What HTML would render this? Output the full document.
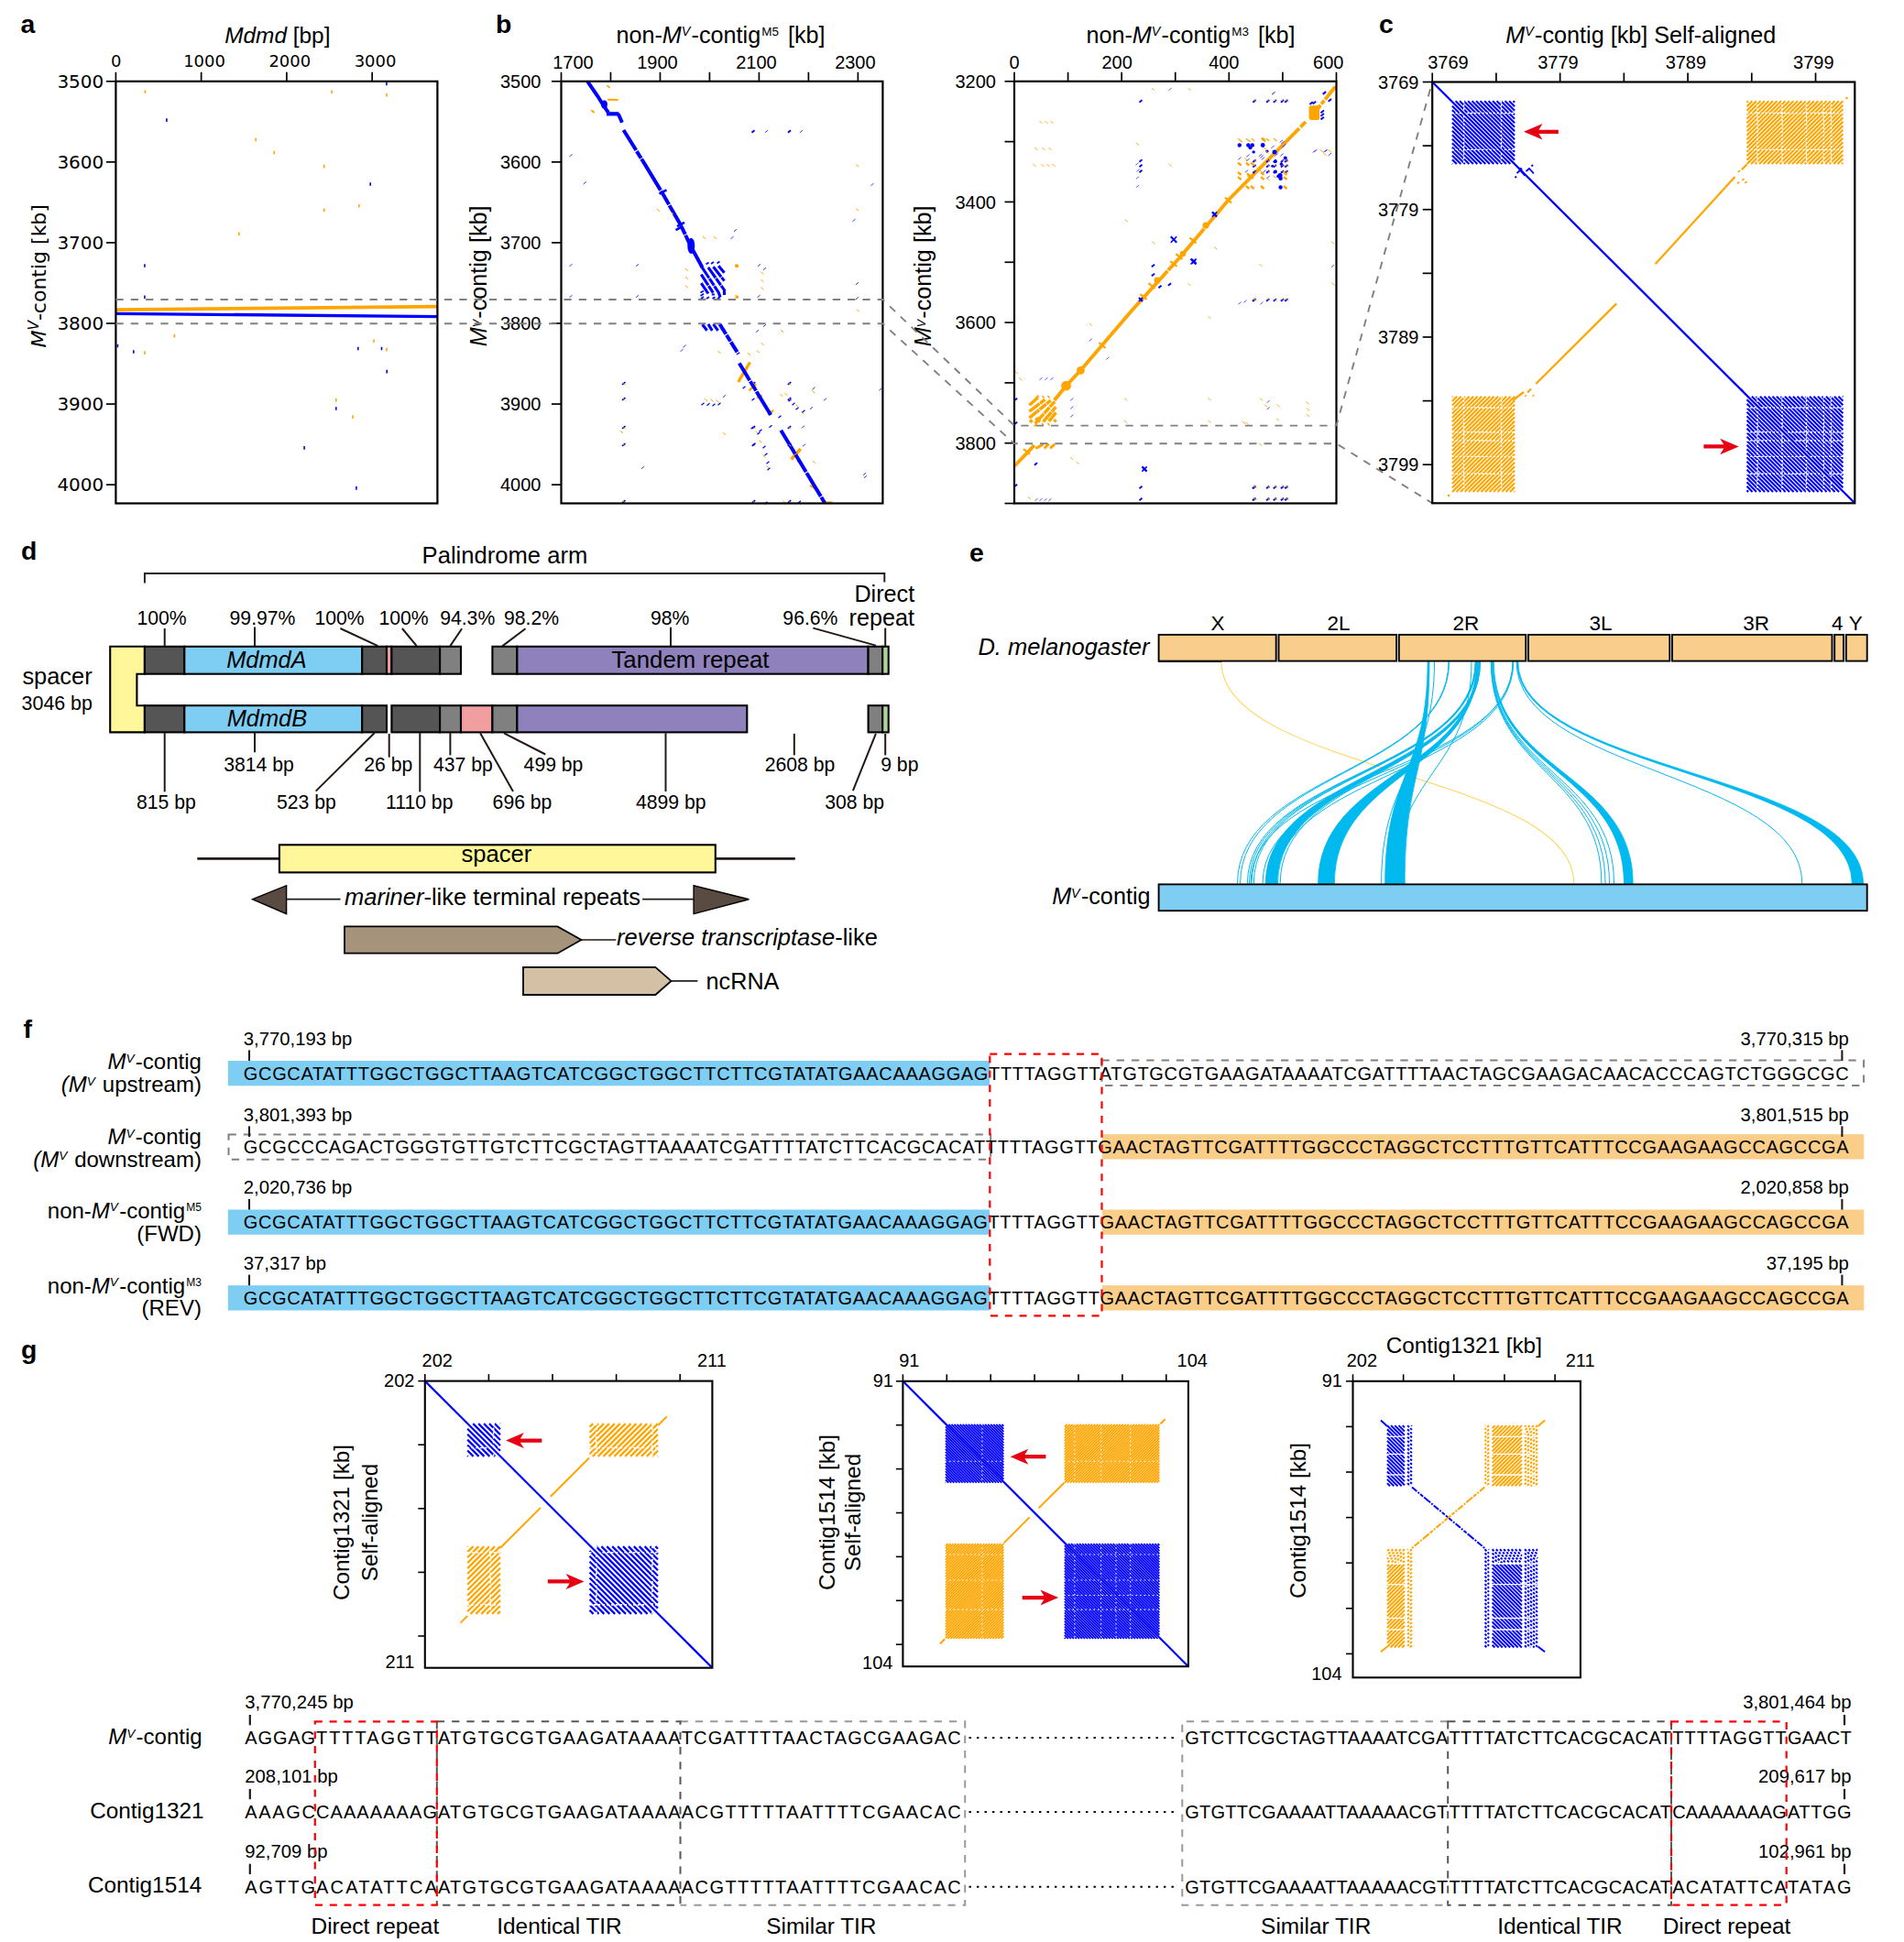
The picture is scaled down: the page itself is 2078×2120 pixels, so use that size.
<!DOCTYPE html>
<html lang="en"><head><meta charset="utf-8"><title>Figure</title>
<style>html,body{margin:0;padding:0;background:#fff}svg{display:block}text{font-family:'Liberation Sans', sans-serif;fill:#000}text.dj{font-family:'DejaVu Sans','Liberation Sans',sans-serif}</style></head>
<body>
<svg width="2078" height="2120" viewBox="0 0 2078 2120">
<rect width="2078" height="2120" fill="#fff"/>
<!-- panel a -->
<text x="22.4" y="35.8" font-size="28.4" font-weight="bold">a</text>
<text x="245.2" y="46.8" font-size="24.4"><tspan font-style="italic">Mdmd</tspan> [bp]</text>
<path d="M158.4,98.4v3.6M362.1,98.4v3.6M421.9,102v3.6M279.1,150.6v3.6M299.3,164.8v3.6M353.7,179.8v3.6M391.9,223v3.6M353.7,227.6v3.6M260.8,253.5v3.6M190.4,364.8v3.6M157.9,383.3v3.6M408,370.5v3.6M422,379.8v3.6M366.8,435v3.6M385.1,453.3v3.6" fill="none" stroke="#FFA500" stroke-width="1.6" />
<path d="M421.9,89.7v3.6M181.9,129.3v3.6M404.2,199.2v3.6M157.9,288.2v3.6M157.9,322.4v3.6M128.4,375.7v3.6M145.8,382.2v3.6M390.8,378.7v3.6M416.5,378.7v3.6M422.2,403.8v3.6M366.8,444.2v3.6M332.1,487.1v3.6M388.9,531.1v3.6" fill="none" stroke="#0000FF" stroke-width="1.6" />
<line x1="126.4" y1="338.2" x2="477.4" y2="334.6" stroke="#FFA500" stroke-width="3.8" />
<line x1="126.4" y1="342.4" x2="477.4" y2="345.6" stroke="#0000FF" stroke-width="3.4" />
<rect x="126.4" y="88.8" width="351" height="460.7" fill="none" stroke="#000" stroke-width="2.2" />
<line x1="126.4" y1="78.8" x2="126.4" y2="88.8" stroke="#000" stroke-width="1.7" />
<text x="126.8" y="73" font-size="18" text-anchor="middle" class="dj">0</text>
<line x1="219.65" y1="78.8" x2="219.65" y2="88.8" stroke="#000" stroke-width="1.7" />
<text x="223.05" y="73" font-size="18" text-anchor="middle" class="dj">1000</text>
<line x1="312.9" y1="78.8" x2="312.9" y2="88.8" stroke="#000" stroke-width="1.7" />
<text x="316.3" y="73" font-size="18" text-anchor="middle" class="dj">2000</text>
<line x1="406.15" y1="78.8" x2="406.15" y2="88.8" stroke="#000" stroke-width="1.7" />
<text x="409.55" y="73" font-size="18" text-anchor="middle" class="dj">3000</text>
<line x1="115.9" y1="88.8" x2="126.4" y2="88.8" stroke="#000" stroke-width="1.7" />
<text x="113.3" y="95.9" font-size="20" text-anchor="end" class="dj">3500</text>
<line x1="115.9" y1="176.87" x2="126.4" y2="176.87" stroke="#000" stroke-width="1.7" />
<text x="113.3" y="183.97" font-size="20" text-anchor="end" class="dj">3600</text>
<line x1="115.9" y1="264.94" x2="126.4" y2="264.94" stroke="#000" stroke-width="1.7" />
<text x="113.3" y="272.04" font-size="20" text-anchor="end" class="dj">3700</text>
<line x1="115.9" y1="353.01" x2="126.4" y2="353.01" stroke="#000" stroke-width="1.7" />
<text x="113.3" y="360.11" font-size="20" text-anchor="end" class="dj">3800</text>
<line x1="115.9" y1="441.08" x2="126.4" y2="441.08" stroke="#000" stroke-width="1.7" />
<text x="113.3" y="448.18" font-size="20" text-anchor="end" class="dj">3900</text>
<line x1="115.9" y1="529.15" x2="126.4" y2="529.15" stroke="#000" stroke-width="1.7" />
<text x="113.3" y="536.25" font-size="20" text-anchor="end" class="dj">4000</text>
<text x="50" y="379.6" font-size="22" class="dj" transform="rotate(-90 50 379.6)"><tspan font-style="oblique">M</tspan><tspan font-style="oblique" font-size="15.4" dy="-8">V</tspan><tspan dy="8">-contig [kb]</tspan></text>
<!-- panel b -->
<text x="540.9" y="35.8" font-size="28.4" font-weight="bold">b</text>
<text x="672.4" y="46.9" font-size="25.2">non-<tspan font-style="italic">M</tspan><tspan font-style="italic" font-size="14.36" dy="-7.56">V</tspan><tspan dy="7.56" dx="1.2">-contig</tspan><tspan font-size="13.48" dy="-8.32" dx="1">M5</tspan><tspan dy="8.32" dx="3"> [kb]</tspan></text>
<line x1="805.7" y1="417" x2="818.5" y2="395.5" stroke="#FFA500" stroke-width="3.4" />
<line x1="863.5" y1="501.5" x2="873.8" y2="490" stroke="#FFA500" stroke-width="3.4" />
<line x1="866" y1="490.5" x2="872" y2="504.5" stroke="#FFA500" stroke-width="2.6" />
<line x1="817.5" y1="426.5" x2="825" y2="419" stroke="#FFA500" stroke-width="2.4" />
<line x1="826" y1="434" x2="832" y2="432" stroke="#FFA500" stroke-width="2.4" />
<line x1="838" y1="452.5" x2="844" y2="448" stroke="#FFA500" stroke-width="2.4" />
<line x1="884" y1="530" x2="891" y2="534" stroke="#FFA500" stroke-width="2.2" />
<line x1="901" y1="548.3" x2="908.5" y2="548.3" stroke="#FFA500" stroke-width="2" />
<polyline points="641.2,88.8 652,104.5 658.5,115 663.9,122.9" fill="none" stroke="#0000FF" stroke-width="4" />
<polyline points="662,124.3 675.5,124.3" fill="none" stroke="#0000FF" stroke-width="4.2" />
<polyline points="674.8,124.3 678.9,133.8" fill="none" stroke="#0000FF" stroke-width="4" />
<polyline points="680.5,142 703.5,178.9 722.6,210.3 743,245.8 754,269 766.5,292" fill="none" stroke="#0000FF" stroke-width="4" stroke-dasharray="26 1.2 9 0.9 40 1.1 17 1"/>
<ellipse cx="659.5" cy="114" rx="3.4" ry="4.6" fill="#0000FF"/>
<line x1="719.5" y1="211.7" x2="727.5" y2="207.3" stroke="#0000FF" stroke-width="2.6" />
<line x1="739" y1="247.2" x2="747" y2="242.8" stroke="#0000FF" stroke-width="2.6" />
<line x1="737.5" y1="251.2" x2="745.5" y2="246.8" stroke="#0000FF" stroke-width="2.6" />
<ellipse cx="754.3" cy="268.4" rx="4" ry="8.6" fill="#0000FF"/>
<path d="M766.2,291.8 L784.2,319.2 L786.1,324.6 M772.9,291.8 L790.5,316.7 L790.5,322 M778.5,291.2 L790.5,306.6 M784.2,290.3 L790.5,297.8 M765.3,299.7 L778.5,319.9 L778.3,322.5 M765.3,309.2 L772.9,320.5" fill="none" stroke="#0000FF" stroke-width="3.1" stroke-dasharray="14 0.8 9 0.8"/>
<path d="M770.5,288.5 l3,-2 M776,288 l3,-2 M782.5,287.5 l3,-2 M764.5,319.5 l3.5,-2 M764.5,323 l3.5,-2.2 M765,326 l3,-2 M771,326 l3,-1.8 M777.5,326 l3,-1.8 M783,326 l3,-1.8" fill="none" stroke="#0000FF" stroke-width="1.7" />
<path d="M766.6,354.3 L771.6,360.8 M772.9,353.9 L777.3,360.8 M778.5,353.9 L783.6,360.8" fill="none" stroke="#0000FF" stroke-width="3.1" />
<circle cx="804.1" cy="290.3" r="2" fill="#FFA500"/><circle cx="804.3" cy="324.3" r="1.8" fill="#FFA500"/>
<polyline points="785.4,353.7 805.9,386.5" fill="none" stroke="#0000FF" stroke-width="4" stroke-dasharray="13 1.2 8 1"/>
<polyline points="806.8,396.5 841.4,453.4" fill="none" stroke="#0000FF" stroke-width="4" stroke-dasharray="22 1.2 12 1 30 1"/>
<polyline points="852.3,469.8 900.1,549" fill="none" stroke="#0000FF" stroke-width="4" stroke-dasharray="30 1 22 1.2"/>
<line x1="663" y1="108.7" x2="674.5" y2="108.9" stroke="#FFA500" stroke-width="2" />
<path d="M662.25,93.1l3.5,2.8M645.25,120.2l3.5,2.8" fill="none" stroke="#FFA500" stroke-width="1.8" />
<path d="M621.4,170.98l3.2,-2.56M636.7,200.98l3.2,-2.56M621.4,290.78l3.2,-2.56M693.9,290.78l3.2,-2.56M800.9,252.78l3.2,-2.56M797.4,260.78l3.2,-2.56M826.9,290.78l3.2,-2.56M832.9,294.78l3.2,-2.56M621.4,324.78l3.2,-2.56M693.9,324.78l3.2,-2.56M826.4,324.78l3.2,-2.56M933.9,310.78l3.2,-2.56M933.9,326.78l3.2,-2.56M745.4,379.28l3.2,-2.56M742.4,383.78l3.2,-2.56M930.4,241.78l3.2,-2.56M950.4,202.78l3.2,-2.56M834.9,144.78l3.2,-2.56M872.9,144.78l3.2,-2.56M959.4,426.28l3.2,-2.56M699.9,511.78l3.2,-2.56M941.9,518.78l3.2,-2.56M942.9,521.78l3.2,-2.56M832.9,356.78l3.2,-2.56M824.9,362.78l3.2,-2.56M788.9,433.78l3.2,-2.56M886.4,425.28l3.2,-2.56M898.9,437.28l3.2,-2.56M883.9,446.78l3.2,-2.56M874.9,467.28l3.2,-2.56M875.9,487.28l3.2,-2.56" fill="none" stroke="#3a3aff" stroke-width="1" />
<path d="M820.5,144.7l3,-2.4M860,144.7l3,-2.4" fill="none" stroke="#0000FF" stroke-width="2" />
<path d="M679.1,419.86l3.4,-2.72M679.1,436.86l3.4,-2.72M679.1,467.86l3.4,-2.72M679.1,486.86l3.4,-2.72M679.1,548.86l3.4,-2.72M820.8,419.86l3.4,-2.72M820.8,467.86l3.4,-2.72M820.8,486.86l3.4,-2.72M820.8,548.86l3.4,-2.72M859.8,419.86l3.4,-2.72M859.8,436.86l3.4,-2.72M859.8,467.86l3.4,-2.72M859.8,486.86l3.4,-2.72M859.8,548.86l3.4,-2.72" fill="none" stroke="#0000FF" stroke-width="1.8" />
<path d="M679.8,417.9l3,2.4M679.8,434.9l3,2.4M679.8,465.9l3,2.4M679.8,484.9l3,2.4M679.8,546.9l3,2.4M821.5,417.9l3,2.4M821.5,465.9l3,2.4M821.5,484.9l3,2.4M821.5,546.9l3,2.4M860.5,417.9l3,2.4M860.5,434.9l3,2.4M860.5,465.9l3,2.4M860.5,484.9l3,2.4M860.5,546.9l3,2.4" fill="none" stroke="#FFA500" stroke-width="0.8" />
<path d="M747.9,293.22l3.2,2.56M747.9,302.22l3.2,2.56M747.9,311.72l3.2,2.56M801.9,288.72l3.2,2.56M802.4,322.22l3.2,2.56M830.4,296.72l3.2,2.56M830.4,305.22l3.2,2.56M830.4,313.72l3.2,2.56M934.9,337.72l3.2,2.56M851.9,360.22l3.2,2.56M830.4,374.22l3.2,2.56M783.4,383.22l3.2,2.56M815.9,385.22l3.2,2.56M825.9,382.72l3.2,2.56M788.9,472.22l3.2,2.56M731.9,231.22l3.2,2.56M716.9,228.22l3.2,2.56M766.9,258.22l3.2,2.56M778.9,258.22l3.2,2.56M933.9,179.52l3.2,2.56M933.9,227.52l3.2,2.56M676.9,470.22l3.2,2.56M768.9,435.22l3.2,2.56M775.4,435.72l3.2,2.56M781.4,436.72l3.2,2.56M851.4,430.22l3.2,2.56M856.4,429.22l3.2,2.56M886.4,426.72l3.2,2.56M868.4,441.72l3.2,2.56M874.4,449.72l3.2,2.56M824.4,470.72l3.2,2.56M828.4,480.72l3.2,2.56M832.4,496.72l3.2,2.56M836.4,508.72l3.2,2.56M886.9,503.22l3.2,2.56M854.4,546.72l3.2,2.56" fill="none" stroke="#FFA500" stroke-width="1" />
<path d="M765.5,442.2l3,-2.4M771.5,442.7l3,-2.4M777.5,443.2l3,-2.4M783.5,442.2l3,-2.4M810.5,424.2l3,-2.4M820.5,437.2l3,-2.4M839.5,466.7l3,-2.4M819.5,468.2l3,-2.4M821.5,486.2l3,-2.4M828.5,471.2l3,-2.4M826.5,474.2l3,-2.4M832.5,489.2l3,-2.4M834.5,497.2l3,-2.4M836.5,506.2l3,-2.4M837.5,513.2l3,-2.4M860.5,438.2l3,-2.4M864.5,442.2l3,-2.4M868.5,447.2l3,-2.4M875.5,450.2l3,-2.4M849.5,456.2l3,-2.4M834.5,550.2l3,-2.4M871,549.2l3,-2.4" fill="none" stroke="#0000FF" stroke-width="1.2" />
<rect x="612.5" y="88.8" width="350.9" height="460.7" fill="none" stroke="#000" stroke-width="2.2" />
<line x1="612.5" y1="78.8" x2="612.5" y2="88.8" stroke="#000" stroke-width="1.7" />
<text x="625.5" y="75" font-size="20" text-anchor="middle">1700</text>
<line x1="666.48" y1="78.8" x2="666.48" y2="88.8" stroke="#000" stroke-width="1.7" />
<line x1="720.46" y1="78.8" x2="720.46" y2="88.8" stroke="#000" stroke-width="1.7" />
<text x="717.46" y="75" font-size="20" text-anchor="middle">1900</text>
<line x1="774.44" y1="78.8" x2="774.44" y2="88.8" stroke="#000" stroke-width="1.7" />
<line x1="828.42" y1="78.8" x2="828.42" y2="88.8" stroke="#000" stroke-width="1.7" />
<text x="825.42" y="75" font-size="20" text-anchor="middle">2100</text>
<line x1="882.4" y1="78.8" x2="882.4" y2="88.8" stroke="#000" stroke-width="1.7" />
<line x1="936.38" y1="78.8" x2="936.38" y2="88.8" stroke="#000" stroke-width="1.7" />
<text x="933.38" y="75" font-size="20" text-anchor="middle">2300</text>
<line x1="602" y1="88.8" x2="612.5" y2="88.8" stroke="#000" stroke-width="1.7" />
<text x="590.5" y="96" font-size="20" text-anchor="end">3500</text>
<line x1="602" y1="176.87" x2="612.5" y2="176.87" stroke="#000" stroke-width="1.7" />
<text x="590.5" y="184.07" font-size="20" text-anchor="end">3600</text>
<line x1="602" y1="264.94" x2="612.5" y2="264.94" stroke="#000" stroke-width="1.7" />
<text x="590.5" y="272.14" font-size="20" text-anchor="end">3700</text>
<line x1="602" y1="353.01" x2="612.5" y2="353.01" stroke="#000" stroke-width="1.7" />
<text x="590.5" y="360.21" font-size="20" text-anchor="end">3800</text>
<line x1="602" y1="441.08" x2="612.5" y2="441.08" stroke="#000" stroke-width="1.7" />
<text x="590.5" y="448.28" font-size="20" text-anchor="end">3900</text>
<line x1="602" y1="529.15" x2="612.5" y2="529.15" stroke="#000" stroke-width="1.7" />
<text x="590.5" y="536.35" font-size="20" text-anchor="end">4000</text>
<text x="531.2" y="378.3" font-size="25.2" transform="rotate(-90 531.2 378.3)"><tspan font-style="italic">M</tspan><tspan font-style="italic" font-size="12.6" dy="-6.05">V</tspan><tspan dy="6.05" dx="1.2">-contig [kb]</tspan></text>
<!-- panel b right -->
<text x="1185.4" y="46.9" font-size="25.2">non-<tspan font-style="italic">M</tspan><tspan font-style="italic" font-size="14.36" dy="-7.56">V</tspan><tspan dy="7.56" dx="1.2">-contig</tspan><tspan font-size="13.48" dy="-8.32" dx="1">M3</tspan><tspan dy="8.32" dx="3"> [kb]</tspan></text>
<polyline points="1457.5,94.5 1434.7,122.9" fill="none" stroke="#FFA500" stroke-width="3.9" stroke-dasharray="18 1.5 5 1.5 5 2 30"/>
<polyline points="1425,133 1340.5,218.5 1288.6,280 1235.4,338.7 1179.4,404.3 1163.5,421.2 1150.7,437" fill="none" stroke="#FFA500" stroke-width="3.9" stroke-dasharray="8 2 150 1 60 1 400"/>
<polyline points="1128.8,486.2 1107.5,508.5" fill="none" stroke="#FFA500" stroke-width="3.9" />
<rect x="1428.6" y="115.2" width="11.6" height="15.8" rx="2.5" fill="#FFA500"/>
<circle cx="1291" cy="277" r="3.2" fill="#FFA500"/>
<circle cx="1316" cy="246" r="3.6" fill="#FFA500"/>
<circle cx="1163.5" cy="421.2" r="5.4" fill="#FFA500"/>
<circle cx="1179.4" cy="404.3" r="4.4" fill="#FFA500"/>
<circle cx="1263" cy="306" r="3.5" fill="#FFA500"/>
<line x1="1298.4" y1="259.7" x2="1305.6" y2="265.3" stroke="#FFA500" stroke-width="2.2" />
<line x1="1360.9" y1="189.2" x2="1368.1" y2="194.8" stroke="#FFA500" stroke-width="2.2" />
<line x1="1336.9" y1="215.7" x2="1344.1" y2="221.3" stroke="#FFA500" stroke-width="2.2" />
<line x1="1283.4" y1="277.2" x2="1290.6" y2="282.8" stroke="#FFA500" stroke-width="2.2" />
<line x1="1277.4" y1="285.2" x2="1284.6" y2="290.8" stroke="#FFA500" stroke-width="2.2" />
<line x1="1199.4" y1="374.2" x2="1206.6" y2="379.8" stroke="#FFA500" stroke-width="2.2" />
<line x1="1244.4" y1="321.2" x2="1251.6" y2="326.8" stroke="#FFA500" stroke-width="2.2" />
<line x1="1253.4" y1="309.2" x2="1260.6" y2="314.8" stroke="#FFA500" stroke-width="2.2" />
<line x1="1116.9" y1="490.2" x2="1124.1" y2="495.8" stroke="#FFA500" stroke-width="2.2" />
<path d="M1123.4,442.2 L1132.8,434 M1123.4,449.2 L1140.4,436.2 M1123.4,456.1 L1146.7,437.2 M1129.7,462.4 L1151.1,438.4 M1138.5,460.5 L1152.4,444.1 M1144.8,459.9 L1152.4,450.4 M1150.5,460.5 L1152.4,458 M1124,461 l2.5,-2.5" fill="none" stroke="#FFA500" stroke-width="3.5" stroke-dasharray="14 0.7 9 0.7"/>
<circle cx="1132.8" cy="458.4" r="3.1" fill="#FFA500"/>
<path d="M1130,434.5 l3,-2.6 M1134,433.5 l-2,-2 M1139.5,434.5 l-2,-2.4 M1145.5,434.5 l-2,-2.4 M1128.5,465.5 l3,-3 M1139,464.5 l-2,-2.4 M1145.5,464.5 l-2,-2.4" fill="none" stroke="#FFA500" stroke-width="1.6" />
<path d="M1130.3,489.5 L1138.5,485.1 M1139.8,489.5 L1144.8,484.5 M1146,489.5 L1151.1,484.8" fill="none" stroke="#FFA500" stroke-width="3" />
<path d="M1367.4,111.68l3.2,-2.56M1382.1,111.68l3.2,-2.56M1389.8,111.68l3.2,-2.56M1397.9,111.68l3.2,-2.56M1402.3,111.68l3.2,-2.56M1367.4,177.08l3.2,-2.56M1382.1,177.08l3.2,-2.56M1389.8,177.08l3.2,-2.56M1397.9,177.08l3.2,-2.56M1402.3,177.08l3.2,-2.56M1367.4,182.58l3.2,-2.56M1382.1,182.58l3.2,-2.56M1389.8,182.58l3.2,-2.56M1397.9,182.58l3.2,-2.56M1402.3,182.58l3.2,-2.56M1367.4,188.88l3.2,-2.56M1382.1,188.88l3.2,-2.56M1389.8,188.88l3.2,-2.56M1397.9,188.88l3.2,-2.56M1402.3,188.88l3.2,-2.56M1367.4,328.78l3.2,-2.56M1382.1,328.78l3.2,-2.56M1389.8,328.78l3.2,-2.56M1397.9,328.78l3.2,-2.56M1402.3,328.78l3.2,-2.56M1367.4,533.28l3.2,-2.56M1382.1,533.28l3.2,-2.56M1389.8,533.28l3.2,-2.56M1397.9,533.28l3.2,-2.56M1402.3,533.28l3.2,-2.56M1367.4,546.28l3.2,-2.56M1382.1,546.28l3.2,-2.56M1389.8,546.28l3.2,-2.56M1397.9,546.28l3.2,-2.56M1402.3,546.28l3.2,-2.56M1366.9,328.78l3.2,-2.56M1366.9,533.28l3.2,-2.56M1366.9,546.28l3.2,-2.56" fill="none" stroke="#0000FF" stroke-width="2" />
<path d="M1368.2,108.72l3.2,2.56M1382.9,108.72l3.2,2.56M1390.6,108.72l3.2,2.56M1398.7,108.72l3.2,2.56M1403.1,108.72l3.2,2.56M1368.2,174.12l3.2,2.56M1382.9,174.12l3.2,2.56M1390.6,174.12l3.2,2.56M1398.7,174.12l3.2,2.56M1403.1,174.12l3.2,2.56M1368.2,179.62l3.2,2.56M1382.9,179.62l3.2,2.56M1390.6,179.62l3.2,2.56M1398.7,179.62l3.2,2.56M1403.1,179.62l3.2,2.56M1368.2,185.92l3.2,2.56M1382.9,185.92l3.2,2.56M1390.6,185.92l3.2,2.56M1398.7,185.92l3.2,2.56M1403.1,185.92l3.2,2.56M1368.2,325.82l3.2,2.56M1382.9,325.82l3.2,2.56M1390.6,325.82l3.2,2.56M1398.7,325.82l3.2,2.56M1403.1,325.82l3.2,2.56M1368.2,530.32l3.2,2.56M1382.9,530.32l3.2,2.56M1390.6,530.32l3.2,2.56M1398.7,530.32l3.2,2.56M1403.1,530.32l3.2,2.56M1368.2,543.32l3.2,2.56M1382.9,543.32l3.2,2.56M1390.6,543.32l3.2,2.56M1398.7,543.32l3.2,2.56M1403.1,543.32l3.2,2.56M1367.7,325.82l3.2,2.56M1367.7,530.32l3.2,2.56M1367.7,543.32l3.2,2.56" fill="none" stroke="#FFA500" stroke-width="0.9" />
<path d="M1351.1,151.24l3.4,2.72M1359.9,151.24l3.4,2.72M1365.8,151.24l3.4,2.72M1376.5,151.24l3.4,2.72M1382,151.24l3.4,2.72M1390.1,151.24l3.4,2.72M1352.3,152.24l3.4,2.72M1361.3,152.24l3.4,2.72M1377.8,152.24l3.4,2.72" fill="none" stroke="#FFA500" stroke-width="1.1" />
<circle cx="1352.8" cy="158.5" r="2.2" fill="#0000FF"/>
<circle cx="1362.4" cy="158.5" r="2.3" fill="#0000FF"/>
<circle cx="1366.8" cy="158.5" r="2.2" fill="#0000FF"/>
<circle cx="1364.5" cy="161.3" r="2" fill="#0000FF"/>
<circle cx="1378.2" cy="158.5" r="2.4" fill="#0000FF"/>
<circle cx="1391" cy="165.9" r="2.5" fill="#0000FF"/>
<circle cx="1368.2" cy="165.9" r="1.7" fill="#0000FF"/>
<circle cx="1382.9" cy="165.1" r="1.7" fill="#0000FF"/>
<circle cx="1402.8" cy="172.5" r="2" fill="#0000FF"/>
<circle cx="1391.8" cy="176.2" r="2" fill="#0000FF"/>
<circle cx="1398.4" cy="179.1" r="1.8" fill="#0000FF"/>
<circle cx="1388.8" cy="181.3" r="1.5" fill="#0000FF"/>
<circle cx="1391.8" cy="187.6" r="2" fill="#0000FF"/>
<circle cx="1397" cy="191.6" r="2.6" fill="#0000FF"/>
<circle cx="1397.6" cy="194.8" r="2.3" fill="#0000FF"/>
<circle cx="1395" cy="192.5" r="1.8" fill="#0000FF"/>
<circle cx="1397.6" cy="204.5" r="2.2" fill="#0000FF"/>
<path d="M1351,177.66l3.6,2.88M1359.8,177.66l3.6,2.88M1365,177.66l3.6,2.88M1351,187.96l3.6,2.88M1351,193.16l3.6,2.88M1376,187.96l3.6,2.88M1376,193.16l3.6,2.88M1401,193.16l3.6,2.88M1359.8,203.06l3.6,2.88M1365,203.06l3.6,2.88M1376,203.06l3.6,2.88M1401,203.06l3.6,2.88M1401,187.96l3.6,2.88M1377.2,150.56l3.6,2.88M1361.7,190.96l3.6,2.88" fill="none" stroke="#FFA500" stroke-width="2.4" />
<path d="M1396.7,155.46l3.4,-2.72M1398.3,156.86l3.4,-2.72M1400.3,159.86l3.4,-2.72M1398.8,161.36l3.4,-2.72M1375.3,172.36l3.4,-2.72M1373.8,170.86l3.4,-2.72M1376.8,174.36l3.4,-2.72M1388.2,103.26l3.4,-2.72M1360.3,171.36l3.4,-2.72M1351.3,174.36l3.4,-2.72M1360.3,175.86l3.4,-2.72M1358.8,188.36l3.4,-2.72M1378.3,188.36l3.4,-2.72M1397.3,170.36l3.4,-2.72M1391.3,170.36l3.4,-2.72M1387.3,161.86l3.4,-2.72M1382.3,194.86l3.4,-2.72M1432.7,166.46l3.4,-2.72M1444.3,166.16l3.4,-2.72M1449.6,169.86l3.4,-2.72" fill="none" stroke="#4a4aff" stroke-width="1" />
<path d="M1440.8,163.44l3.4,2.72M1449.6,163.44l3.4,2.72M1444.3,167.14l3.4,2.72M1382.3,194.14l3.4,2.72M1389.3,191.64l3.4,2.72M1373.3,184.64l3.4,2.72M1358.3,172.64l3.4,2.72M1379.3,161.14l3.4,2.72M1381.3,164.64l3.4,2.72" fill="none" stroke="#FFA500" stroke-width="1" />
<path d="M1443.7,102.86l3.4,-2.72M1449.6,110.66l3.4,-2.72M1429.4,113.96l3.4,-2.72M1432.7,113.56l3.4,-2.72M1441.5,123.16l3.4,-2.72M1441.5,126.76l3.4,-2.72M1441.5,130.46l3.4,-2.72" fill="none" stroke="#0000FF" stroke-width="2" />
<path d="M1243.5,111.7l3,-2.4M1243.5,176.7l3,-2.4M1243.5,182.2l3,-2.4M1243.5,188.2l3,-2.4M1243.5,533.2l3,-2.4M1243.5,546.2l3,-2.4" fill="none" stroke="#0000FF" stroke-width="1.8" />
<path d="M1239.4,180.28l3.2,-2.56M1240.4,187.28l3.2,-2.56M1239.9,195.28l3.2,-2.56M1239.9,204.78l3.2,-2.56M1275.4,98.78l3.2,-2.56M1351.4,332.28l3.2,-2.56M1357.4,330.28l3.2,-2.56M1375.4,332.28l3.2,-2.56M1434.4,165.78l3.2,-2.56M1445.9,165.78l3.2,-2.56M1388.4,102.78l3.2,-2.56M1453,291.68l3.2,-2.56M1188.7,372.28l3.2,-2.56M1207.3,392.48l3.2,-2.56M1168.2,455.28l3.2,-2.56M1168.2,437.28l3.2,-2.56M1168.2,446.28l3.2,-2.56M1129.4,546.78l3.2,-2.56M1134.4,546.78l3.2,-2.56M1139.4,546.78l3.2,-2.56M1144.4,546.78l3.2,-2.56M1134.4,414.78l3.2,-2.56M1140.4,414.78l3.2,-2.56M1146.4,414.78l3.2,-2.56M1382.6,439.68l3.2,-2.56M1382.6,447.08l3.2,-2.56" fill="none" stroke="#4a4aff" stroke-width="0.9" />
<path d="M1134.4,132.22l3.2,2.56M1140.4,132.22l3.2,2.56M1146.4,132.22l3.2,2.56M1129.4,161.22l3.2,2.56M1137.4,161.22l3.2,2.56M1144.4,161.22l3.2,2.56M1127.4,179.22l3.2,2.56M1136.4,179.22l3.2,2.56M1142.4,179.22l3.2,2.56M1148.4,179.22l3.2,2.56M1257,96.22l3.2,2.56M1296.6,96.22l3.2,2.56M1239.8,155.92l3.2,2.56M1275.4,178.92l3.2,2.56M1227.5,239.62l3.2,2.56M1257.5,263.62l3.2,2.56M1374.4,288.22l3.2,2.56M1325.2,269.62l3.2,2.56M1188.7,353.02l3.2,2.56M1296.4,309.22l3.2,2.56M1453.4,308.72l3.2,2.56M1452.8,263.62l3.2,2.56M1318.4,345.22l3.2,2.56M1374.9,434.72l3.2,2.56M1318.4,434.42l3.2,2.56M1318.4,459.02l3.2,2.56M1226.9,434.42l3.2,2.56M1226.9,459.02l3.2,2.56M1379.9,441.72l3.2,2.56M1393.4,441.72l3.2,2.56M1108.1,405.72l3.2,2.56M1112.2,412.52l3.2,2.56M1168.2,499.42l3.2,2.56M1174.5,504.02l3.2,2.56M1121.8,542.22l3.2,2.56M1373.9,483.72l3.2,2.56M1392.9,456.72l3.2,2.56M1425.4,438.72l3.2,2.56M1425.9,445.72l3.2,2.56M1425.9,452.22l3.2,2.56M1355.9,460.22l3.2,2.56M1359.4,460.72l3.2,2.56" fill="none" stroke="#FFA500" stroke-width="0.9" />
<line x1="1277.8" y1="258.3" x2="1284.2" y2="264.7" stroke="#0000FF" stroke-width="2.2" />
<line x1="1277.8" y1="264.7" x2="1284.2" y2="258.3" stroke="#0000FF" stroke-width="1.6" />
<line x1="1299.5" y1="282.5" x2="1305.5" y2="288.5" stroke="#0000FF" stroke-width="2.2" />
<line x1="1299.5" y1="288.5" x2="1305.5" y2="282.5" stroke="#0000FF" stroke-width="1.6" />
<line x1="1300.6" y1="283.1" x2="1305.4" y2="287.9" stroke="#0000FF" stroke-width="2.2" />
<line x1="1300.6" y1="287.9" x2="1305.4" y2="283.1" stroke="#0000FF" stroke-width="1.6" />
<line x1="1246.4" y1="509.4" x2="1251.6" y2="514.6" stroke="#0000FF" stroke-width="2.2" />
<line x1="1246.4" y1="514.6" x2="1251.6" y2="509.4" stroke="#0000FF" stroke-width="1.6" />
<line x1="1322.9" y1="231.4" x2="1328.1" y2="236.6" stroke="#0000FF" stroke-width="2.2" />
<line x1="1322.9" y1="236.6" x2="1328.1" y2="231.4" stroke="#0000FF" stroke-width="1.6" />
<line x1="1243" y1="325" x2="1247" y2="329" stroke="#0000FF" stroke-width="2.2" />
<line x1="1243" y1="329" x2="1247" y2="325" stroke="#0000FF" stroke-width="1.6" />
<path d="M1256.9,291.28l3.2,-2.56M1256.9,301.28l3.2,-2.56M1264.4,314.28l3.2,-2.56M1274.9,311.78l3.2,-2.56M1128.9,507.78l3.2,-2.56M1106.9,437.28l3.2,-2.56M1106.9,463.28l3.2,-2.56M1106.9,531.28l3.2,-2.56" fill="none" stroke="#0000FF" stroke-width="2" />
<rect x="1107" y="88.8" width="351.5" height="460.7" fill="none" stroke="#000" stroke-width="2.2" />
<line x1="1107" y1="78.8" x2="1107" y2="88.8" stroke="#000" stroke-width="1.7" />
<text x="1107" y="75" font-size="20" text-anchor="middle">0</text>
<line x1="1165.58" y1="78.8" x2="1165.58" y2="88.8" stroke="#000" stroke-width="1.7" />
<line x1="1224.16" y1="78.8" x2="1224.16" y2="88.8" stroke="#000" stroke-width="1.7" />
<text x="1219.16" y="75" font-size="20" text-anchor="middle">200</text>
<line x1="1282.74" y1="78.8" x2="1282.74" y2="88.8" stroke="#000" stroke-width="1.7" />
<line x1="1341.32" y1="78.8" x2="1341.32" y2="88.8" stroke="#000" stroke-width="1.7" />
<text x="1335.82" y="75" font-size="20" text-anchor="middle">400</text>
<line x1="1399.9" y1="78.8" x2="1399.9" y2="88.8" stroke="#000" stroke-width="1.7" />
<line x1="1458.48" y1="78.8" x2="1458.48" y2="88.8" stroke="#000" stroke-width="1.7" />
<text x="1449.78" y="75" font-size="20" text-anchor="middle">600</text>
<line x1="1096.5" y1="88.8" x2="1107" y2="88.8" stroke="#000" stroke-width="1.7" />
<text x="1087" y="96" font-size="20" text-anchor="end">3200</text>
<line x1="1096.5" y1="154.62" x2="1107" y2="154.62" stroke="#000" stroke-width="1.7" />
<line x1="1096.5" y1="220.44" x2="1107" y2="220.44" stroke="#000" stroke-width="1.7" />
<text x="1087" y="227.64" font-size="20" text-anchor="end">3400</text>
<line x1="1096.5" y1="286.26" x2="1107" y2="286.26" stroke="#000" stroke-width="1.7" />
<line x1="1096.5" y1="352.08" x2="1107" y2="352.08" stroke="#000" stroke-width="1.7" />
<text x="1087" y="359.28" font-size="20" text-anchor="end">3600</text>
<line x1="1096.5" y1="417.9" x2="1107" y2="417.9" stroke="#000" stroke-width="1.7" />
<line x1="1096.5" y1="483.72" x2="1107" y2="483.72" stroke="#000" stroke-width="1.7" />
<text x="1087" y="490.92" font-size="20" text-anchor="end">3800</text>
<line x1="1096.5" y1="549.54" x2="1107" y2="549.54" stroke="#000" stroke-width="1.7" />
<text x="1016.2" y="378.3" font-size="25.2" transform="rotate(-90 1016.2 378.3)"><tspan font-style="italic">M</tspan><tspan font-style="italic" font-size="12.6" dy="-6.05">V</tspan><tspan dy="6.05" dx="1.2">-contig [kb]</tspan></text>
<!-- grey dashed connectors -->
<polyline points="126.4,327 963.4,327 1107,464.6 1458.5,464.6 1563.2,89.5" fill="none" stroke="#808080" stroke-width="1.9" stroke-dasharray="8.3 8" stroke-linejoin="round"/>
<polyline points="126.4,353.2 963.4,353.2 1107,484.3 1458.5,484.3 1563.2,549.3" fill="none" stroke="#808080" stroke-width="1.9" stroke-dasharray="8.3 8" stroke-linejoin="round"/>
<!-- panel c -->
<text x="1504.9" y="35.8" font-size="28.4" font-weight="bold">c</text>
<text x="1643.3" y="46.9" font-size="25.2"><tspan font-style="italic">M</tspan><tspan font-style="italic" font-size="14.36" dy="-7.56">V</tspan><tspan dy="7.56" dx="1.2">-contig [kb] Self-aligned</tspan></text>
<path d="M1584.9,178.64L1585.36,179.1M1584.9,174.14L1589.86,179.1M1584.9,169.64L1594.36,179.1M1584.9,165.14L1598.86,179.1M1584.9,160.64L1603.36,179.1M1584.9,156.14L1607.86,179.1M1584.9,151.64L1612.36,179.1M1584.9,147.14L1616.86,179.1M1584.9,142.64L1621.36,179.1M1584.9,138.14L1625.86,179.1M1584.9,133.64L1630.36,179.1M1584.9,129.14L1634.86,179.1M1584.9,124.64L1639.36,179.1M1584.9,120.14L1643.86,179.1M1584.9,115.64L1648.36,179.1M1588.56,110.3L1653.1,174.84M1593.06,110.3L1653.1,170.34M1597.56,110.3L1653.1,165.84M1602.06,110.3L1653.1,161.34M1606.56,110.3L1653.1,156.84M1611.06,110.3L1653.1,152.34M1615.56,110.3L1653.1,147.84M1620.06,110.3L1653.1,143.34M1624.56,110.3L1653.1,138.84M1629.06,110.3L1653.1,134.34M1633.56,110.3L1653.1,129.84M1638.06,110.3L1653.1,125.34M1642.56,110.3L1653.1,120.84M1647.06,110.3L1653.1,116.34M1651.56,110.3L1653.1,111.84" fill="none" stroke="#0000FF" stroke-width="2.1" />
<line x1="1597.6" y1="109.8" x2="1597.6" y2="179.6" stroke="#fff" stroke-width="1.4" stroke-dasharray="2.4 1.7" />
<line x1="1638.5" y1="109.8" x2="1638.5" y2="179.6" stroke="#fff" stroke-width="1.4" stroke-dasharray="2.4 1.7" />
<line x1="1584.4" y1="123.5" x2="1653.6" y2="123.5" stroke="#fff" stroke-width="1.4" stroke-dasharray="2.4 1.7" />
<line x1="1584.4" y1="163.4" x2="1653.6" y2="163.4" stroke="#fff" stroke-width="1.4" stroke-dasharray="2.4 1.7" />
<path d="M2011.4,177.8L2010.1,179.1M2011.4,173.3L2005.6,179.1M2011.4,168.8L2001.1,179.1M2011.4,164.3L1996.6,179.1M2011.4,159.8L1992.1,179.1M2011.4,155.3L1987.6,179.1M2011.4,150.8L1983.1,179.1M2011.4,146.3L1978.6,179.1M2011.4,141.8L1974.1,179.1M2011.4,137.3L1969.6,179.1M2011.4,132.8L1965.1,179.1M2011.4,128.3L1960.6,179.1M2011.4,123.8L1956.1,179.1M2011.4,119.3L1951.6,179.1M2011.4,114.8L1947.1,179.1M2011.4,110.3L1942.6,179.1M2006.9,110.3L1938.1,179.1M2002.4,110.3L1933.6,179.1M1997.9,110.3L1929.1,179.1M1993.4,110.3L1924.6,179.1M1988.9,110.3L1920.1,179.1M1984.4,110.3L1915.6,179.1M1979.9,110.3L1911.1,179.1M1975.4,110.3L1906.6,179.1M1970.9,110.3L1906.5,174.7M1966.4,110.3L1906.5,170.2M1961.9,110.3L1906.5,165.7M1957.4,110.3L1906.5,161.2M1952.9,110.3L1906.5,156.7M1948.4,110.3L1906.5,152.2M1943.9,110.3L1906.5,147.7M1939.4,110.3L1906.5,143.2M1934.9,110.3L1906.5,138.7M1930.4,110.3L1906.5,134.2M1925.9,110.3L1906.5,129.7M1921.4,110.3L1906.5,125.2M1916.9,110.3L1906.5,120.7M1912.4,110.3L1906.5,116.2M1907.9,110.3L1906.5,111.7" fill="none" stroke="#FFA500" stroke-width="2.1" />
<line x1="1918" y1="109.8" x2="1918" y2="179.6" stroke="#fff" stroke-width="1.4" stroke-dasharray="2.4 1.7" />
<line x1="1945" y1="109.8" x2="1945" y2="179.6" stroke="#fff" stroke-width="1.4" stroke-dasharray="2.4 1.7" />
<line x1="1971.5" y1="109.8" x2="1971.5" y2="179.6" stroke="#fff" stroke-width="1.4" stroke-dasharray="2.4 1.7" />
<line x1="1990.4" y1="109.8" x2="1990.4" y2="179.6" stroke="#fff" stroke-width="1.4" stroke-dasharray="2.4 1.7" />
<line x1="1998.5" y1="109.8" x2="1998.5" y2="179.6" stroke="#fff" stroke-width="1.4" stroke-dasharray="2.4 1.7" />
<line x1="1906" y1="123.5" x2="2011.9" y2="123.5" stroke="#fff" stroke-width="1.4" stroke-dasharray="2.4 1.7" />
<line x1="1906" y1="163.4" x2="2011.9" y2="163.4" stroke="#fff" stroke-width="1.4" stroke-dasharray="2.4 1.7" />
<path d="M1653.1,536.3L1652.5,536.9M1653.1,531.8L1648,536.9M1653.1,527.3L1643.5,536.9M1653.1,522.8L1639,536.9M1653.1,518.3L1634.5,536.9M1653.1,513.8L1630,536.9M1653.1,509.3L1625.5,536.9M1653.1,504.8L1621,536.9M1653.1,500.3L1616.5,536.9M1653.1,495.8L1612,536.9M1653.1,491.3L1607.5,536.9M1653.1,486.8L1603,536.9M1653.1,482.3L1598.5,536.9M1653.1,477.8L1594,536.9M1653.1,473.3L1589.5,536.9M1653.1,468.8L1585,536.9M1653.1,464.3L1584.9,532.5M1653.1,459.8L1584.9,528M1653.1,455.3L1584.9,523.5M1653.1,450.8L1584.9,519M1653.1,446.3L1584.9,514.5M1653.1,441.8L1584.9,510M1653.1,437.3L1584.9,505.5M1653.1,432.8L1584.9,501M1648.6,432.8L1584.9,496.5M1644.1,432.8L1584.9,492M1639.6,432.8L1584.9,487.5M1635.1,432.8L1584.9,483M1630.6,432.8L1584.9,478.5M1626.1,432.8L1584.9,474M1621.6,432.8L1584.9,469.5M1617.1,432.8L1584.9,465M1612.6,432.8L1584.9,460.5M1608.1,432.8L1584.9,456M1603.6,432.8L1584.9,451.5M1599.1,432.8L1584.9,447M1594.6,432.8L1584.9,442.5M1590.1,432.8L1584.9,438M1585.6,432.8L1584.9,433.5" fill="none" stroke="#FFA500" stroke-width="2.1" />
<line x1="1597.6" y1="432.3" x2="1597.6" y2="537.4" stroke="#fff" stroke-width="1.4" stroke-dasharray="2.4 1.7" />
<line x1="1638.5" y1="432.3" x2="1638.5" y2="537.4" stroke="#fff" stroke-width="1.4" stroke-dasharray="2.4 1.7" />
<line x1="1584.4" y1="445" x2="1653.6" y2="445" stroke="#fff" stroke-width="1.4" stroke-dasharray="2.4 1.7" />
<line x1="1584.4" y1="471.7" x2="1653.6" y2="471.7" stroke="#fff" stroke-width="1.4" stroke-dasharray="2.4 1.7" />
<line x1="1584.4" y1="481" x2="1653.6" y2="481" stroke="#fff" stroke-width="1.4" stroke-dasharray="2.4 1.7" />
<line x1="1584.4" y1="498.4" x2="1653.6" y2="498.4" stroke="#fff" stroke-width="1.4" stroke-dasharray="2.4 1.7" />
<line x1="1584.4" y1="517.2" x2="1653.6" y2="517.2" stroke="#fff" stroke-width="1.4" stroke-dasharray="2.4 1.7" />
<path d="M1906.5,535.33L1908.07,536.9M1906.5,530.83L1912.57,536.9M1906.5,526.33L1917.07,536.9M1906.5,521.83L1921.57,536.9M1906.5,517.33L1926.07,536.9M1906.5,512.83L1930.57,536.9M1906.5,508.33L1935.07,536.9M1906.5,503.83L1939.57,536.9M1906.5,499.33L1944.07,536.9M1906.5,494.83L1948.57,536.9M1906.5,490.33L1953.07,536.9M1906.5,485.83L1957.57,536.9M1906.5,481.33L1962.07,536.9M1906.5,476.83L1966.57,536.9M1906.5,472.33L1971.07,536.9M1906.5,467.83L1975.57,536.9M1906.5,463.33L1980.07,536.9M1906.5,458.83L1984.57,536.9M1906.5,454.33L1989.07,536.9M1906.5,449.83L1993.57,536.9M1906.5,445.33L1998.07,536.9M1906.5,440.83L2002.57,536.9M1906.5,436.33L2007.07,536.9M1911.97,432.8L2011.4,532.23M1916.47,432.8L2011.4,527.73M1920.97,432.8L2011.4,523.23M1925.47,432.8L2011.4,518.73M1929.97,432.8L2011.4,514.23M1934.47,432.8L2011.4,509.73M1938.97,432.8L2011.4,505.23M1943.47,432.8L2011.4,500.73M1947.97,432.8L2011.4,496.23M1952.47,432.8L2011.4,491.73M1956.97,432.8L2011.4,487.23M1961.47,432.8L2011.4,482.73M1965.97,432.8L2011.4,478.23M1970.47,432.8L2011.4,473.73M1974.97,432.8L2011.4,469.23M1979.47,432.8L2011.4,464.73M1983.97,432.8L2011.4,460.23M1988.47,432.8L2011.4,455.73M1992.97,432.8L2011.4,451.23M1997.47,432.8L2011.4,446.73M2001.97,432.8L2011.4,442.23M2006.47,432.8L2011.4,437.73M2010.97,432.8L2011.4,433.23" fill="none" stroke="#0000FF" stroke-width="2.1" />
<line x1="1918" y1="432.3" x2="1918" y2="537.4" stroke="#fff" stroke-width="1.4" stroke-dasharray="2.4 1.7" />
<line x1="1945" y1="432.3" x2="1945" y2="537.4" stroke="#fff" stroke-width="1.4" stroke-dasharray="2.4 1.7" />
<line x1="1971.5" y1="432.3" x2="1971.5" y2="537.4" stroke="#fff" stroke-width="1.4" stroke-dasharray="2.4 1.7" />
<line x1="1990.4" y1="432.3" x2="1990.4" y2="537.4" stroke="#fff" stroke-width="1.4" stroke-dasharray="2.4 1.7" />
<line x1="1998.5" y1="432.3" x2="1998.5" y2="537.4" stroke="#fff" stroke-width="1.4" stroke-dasharray="2.4 1.7" />
<line x1="1906" y1="445" x2="2011.9" y2="445" stroke="#fff" stroke-width="1.4" stroke-dasharray="2.4 1.7" />
<line x1="1906" y1="471.7" x2="2011.9" y2="471.7" stroke="#fff" stroke-width="1.4" stroke-dasharray="2.4 1.7" />
<line x1="1906" y1="481" x2="2011.9" y2="481" stroke="#fff" stroke-width="1.4" stroke-dasharray="2.4 1.7" />
<line x1="1906" y1="498.4" x2="2011.9" y2="498.4" stroke="#fff" stroke-width="1.4" stroke-dasharray="2.4 1.7" />
<line x1="1906" y1="517.2" x2="2011.9" y2="517.2" stroke="#fff" stroke-width="1.4" stroke-dasharray="2.4 1.7" />
<line x1="1563.2" y1="89.5" x2="2024.3" y2="549.3" stroke="#0000FF" stroke-width="2.3" />
<polyline points="1906.5,179.5 1900.9,185.3" fill="none" stroke="#FFA500" stroke-width="2.2" />
<polyline points="1893.5,193 1806.6,288.3" fill="none" stroke="#FFA500" stroke-width="2.2" />
<polyline points="1764.2,331.4 1676.3,419" fill="none" stroke="#FFA500" stroke-width="2.2" />
<polyline points="1671,424.5 1667,428.5" fill="none" stroke="#FFA500" stroke-width="2.2" />
<polyline points="1663,428 1651,437" fill="none" stroke="#FFA500" stroke-width="2.2" />
<circle cx="2015.5" cy="107" r="1.3" fill="#FFA500"/>
<circle cx="1581" cy="541" r="1.3" fill="#FFA500"/>
<path d="M1896.8,187.96l2.4,-1.92M1901.3,196.96l2.4,-1.92M1904.3,199.96l2.4,-1.92M1895.8,200.46l2.4,-1.92" fill="none" stroke="#FFA500" stroke-width="1.6" />
<path d="M1664,432.8l2,-1.6M1672.5,432.8l2,-1.6" fill="none" stroke="#FFA500" stroke-width="1.4" />
<path d="M1665.5,187 l3.5,-3 l5,5.5 M1655.5,189 l3.5,-3 l5.5,6 M1671.5,181.5 l1.5,-1.5 M1653.5,194 l1.5,-1.5 M1899.5,424.5 l3,3" fill="none" stroke="#0000FF" stroke-width="1.8" />
<circle cx="1659.5" cy="185" r="2" fill="#0000FF"/>
<polygon points="1663,143.8 1683.5,135.05 1679.4,141.65 1700.8,141.65 1700.8,145.95 1679.4,145.95 1683.5,152.55" fill="#E60012"/>
<polygon points="1897.7,487.4 1877.2,478.65 1881.3,485.25 1859.4,485.25 1859.4,489.55 1881.3,489.55 1877.2,496.15" fill="#E60012"/>
<rect x="1563.2" y="89.5" width="461.1" height="459.8" fill="none" stroke="#000" stroke-width="2.2" />
<line x1="1563.2" y1="79.5" x2="1563.2" y2="89.5" stroke="#000" stroke-width="1.7" />
<text x="1580.5" y="75" font-size="20" text-anchor="middle">3769</text>
<line x1="1632.92" y1="79.5" x2="1632.92" y2="89.5" stroke="#000" stroke-width="1.7" />
<line x1="1702.64" y1="79.5" x2="1702.64" y2="89.5" stroke="#000" stroke-width="1.7" />
<text x="1700.44" y="75" font-size="20" text-anchor="middle">3779</text>
<line x1="1772.36" y1="79.5" x2="1772.36" y2="89.5" stroke="#000" stroke-width="1.7" />
<line x1="1842.08" y1="79.5" x2="1842.08" y2="89.5" stroke="#000" stroke-width="1.7" />
<text x="1839.88" y="75" font-size="20" text-anchor="middle">3789</text>
<line x1="1911.8" y1="79.5" x2="1911.8" y2="89.5" stroke="#000" stroke-width="1.7" />
<line x1="1981.52" y1="79.5" x2="1981.52" y2="89.5" stroke="#000" stroke-width="1.7" />
<text x="1979.32" y="75" font-size="20" text-anchor="middle">3799</text>
<line x1="1552.7" y1="89.5" x2="1563.2" y2="89.5" stroke="#000" stroke-width="1.7" />
<text x="1548.5" y="96.7" font-size="20" text-anchor="end">3769</text>
<line x1="1552.7" y1="159.12" x2="1563.2" y2="159.12" stroke="#000" stroke-width="1.7" />
<line x1="1552.7" y1="228.74" x2="1563.2" y2="228.74" stroke="#000" stroke-width="1.7" />
<text x="1548.5" y="235.94" font-size="20" text-anchor="end">3779</text>
<line x1="1552.7" y1="298.36" x2="1563.2" y2="298.36" stroke="#000" stroke-width="1.7" />
<line x1="1552.7" y1="367.98" x2="1563.2" y2="367.98" stroke="#000" stroke-width="1.7" />
<text x="1548.5" y="375.18" font-size="20" text-anchor="end">3789</text>
<line x1="1552.7" y1="437.6" x2="1563.2" y2="437.6" stroke="#000" stroke-width="1.7" />
<line x1="1552.7" y1="507.22" x2="1563.2" y2="507.22" stroke="#000" stroke-width="1.7" />
<text x="1548.5" y="514.42" font-size="20" text-anchor="end">3799</text>
<!-- panel d -->
<text x="22.9" y="611.3" font-size="28.4" font-weight="bold">d</text>
<text x="460.6" y="614.7" font-size="25.6">Palindrome arm</text>
<path d="M157.9,636.5 V626 H965.3 V635.5" fill="none" stroke="#231815" stroke-width="1.9" />
<path d="M120.2,705.8 H157.9 V735.7 H149.4 V770.2 H157.9 V799.4 H120.2 Z" fill="#FFF799" stroke="#000" stroke-width="2.1" />
<rect x="157.9" y="705.8" width="43.4" height="29.9" fill="#555555" stroke="#000" stroke-width="2.1" />
<rect x="201.3" y="705.8" width="193.9" height="29.9" fill="#7ECEF4" stroke="#000" stroke-width="2.1" />
<rect x="395.2" y="705.8" width="26.8" height="29.9" fill="#555555" stroke="#000" stroke-width="2.1" />
<rect x="422" y="705.8" width="5.4" height="29.9" fill="#F19EA0" stroke="#000" stroke-width="2.1" />
<rect x="427.4" y="705.8" width="52.7" height="29.9" fill="#555555" stroke="#000" stroke-width="2.1" />
<rect x="480.1" y="705.8" width="22.9" height="29.9" fill="#808080" stroke="#000" stroke-width="2.1" />
<rect x="537.4" y="705.8" width="27" height="29.9" fill="#808080" stroke="#000" stroke-width="2.1" />
<rect x="564.4" y="705.8" width="383.2" height="29.9" fill="#8F82BC" stroke="#000" stroke-width="2.1" />
<rect x="947.6" y="705.8" width="15.6" height="29.9" fill="#808080" stroke="#000" stroke-width="2.1" />
<rect x="963.2" y="705.8" width="6.5" height="29.9" fill="#ACD598" stroke="#000" stroke-width="2.1" />
<rect x="157.9" y="770.2" width="43.4" height="29.2" fill="#555555" stroke="#000" stroke-width="2.1" />
<rect x="201.3" y="770.2" width="193.9" height="29.2" fill="#7ECEF4" stroke="#000" stroke-width="2.1" />
<rect x="395.2" y="770.2" width="26.8" height="29.2" fill="#555555" stroke="#000" stroke-width="2.1" />
<rect x="427.4" y="770.2" width="52.7" height="29.2" fill="#555555" stroke="#000" stroke-width="2.1" />
<rect x="480.1" y="770.2" width="22.9" height="29.2" fill="#808080" stroke="#000" stroke-width="2.1" />
<rect x="503" y="770.2" width="34.4" height="29.2" fill="#F19EA0" stroke="#000" stroke-width="2.1" />
<rect x="537.4" y="770.2" width="27" height="29.2" fill="#808080" stroke="#000" stroke-width="2.1" />
<rect x="564.4" y="770.2" width="250.9" height="29.2" fill="#8F82BC" stroke="#000" stroke-width="2.1" />
<rect x="947.6" y="770.2" width="15.6" height="29.2" fill="#808080" stroke="#000" stroke-width="2.1" />
<rect x="963.2" y="770.2" width="6.5" height="29.2" fill="#ACD598" stroke="#000" stroke-width="2.1" />
<text x="290.9" y="728.6" font-size="25.4" text-anchor="middle" font-style="italic">MdmdA</text>
<text x="291.4" y="793" font-size="25.4" text-anchor="middle" font-style="italic">MdmdB</text>
<text x="753.5" y="728.8" font-size="25.8" text-anchor="middle">Tandem repeat</text>
<text x="24.4" y="747" font-size="25.4">spacer</text>
<text x="23.6" y="775.4" font-size="21.4">3046 bp</text>
<text x="176.5" y="681.8" font-size="21.2" text-anchor="middle">100%</text>
<text x="286.5" y="681.8" font-size="21.2" text-anchor="middle">99.97%</text>
<text x="370.5" y="681.8" font-size="21.2" text-anchor="middle">100%</text>
<text x="440.5" y="681.8" font-size="21.2" text-anchor="middle">100%</text>
<text x="510.2" y="681.8" font-size="21.2" text-anchor="middle">94.3%</text>
<text x="580" y="681.8" font-size="21.2" text-anchor="middle">98.2%</text>
<text x="731.2" y="681.8" font-size="21.2" text-anchor="middle">98%</text>
<text x="884.4" y="681.8" font-size="21.2" text-anchor="middle">96.6%</text>
<text x="965.3" y="657.4" font-size="25.2" text-anchor="middle">Direct</text>
<text x="962.3" y="682.6" font-size="25.2" text-anchor="middle">repeat</text>
<line x1="179.7" y1="686" x2="179.7" y2="705" stroke="#231815" stroke-width="2" />
<line x1="278" y1="684.5" x2="278" y2="705" stroke="#231815" stroke-width="2" />
<line x1="371.4" y1="686" x2="412.4" y2="705.2" stroke="#231815" stroke-width="2" />
<line x1="438.9" y1="686" x2="454.7" y2="705.2" stroke="#231815" stroke-width="2" />
<line x1="504.1" y1="686.2" x2="491.2" y2="705.4" stroke="#231815" stroke-width="2" />
<line x1="573.5" y1="686.2" x2="548.2" y2="705.4" stroke="#231815" stroke-width="2" />
<line x1="732" y1="684.7" x2="732" y2="705" stroke="#231815" stroke-width="2" />
<line x1="887.4" y1="685.6" x2="955.9" y2="704.6" stroke="#231815" stroke-width="2" />
<line x1="966.2" y1="685.6" x2="966.2" y2="705" stroke="#231815" stroke-width="2" />
<line x1="179.7" y1="800" x2="179.7" y2="864.4" stroke="#231815" stroke-width="2" />
<line x1="278" y1="800" x2="278" y2="821.3" stroke="#231815" stroke-width="2" />
<line x1="408.8" y1="800" x2="344.7" y2="863.6" stroke="#231815" stroke-width="2" />
<line x1="424.7" y1="801" x2="424.7" y2="826.7" stroke="#231815" stroke-width="2" />
<line x1="458.3" y1="800" x2="458.3" y2="864.4" stroke="#231815" stroke-width="2" />
<line x1="491.4" y1="800" x2="491.4" y2="824.4" stroke="#231815" stroke-width="2" />
<line x1="524.1" y1="800.3" x2="560" y2="864.1" stroke="#231815" stroke-width="2" />
<line x1="550" y1="800.3" x2="595.3" y2="823.5" stroke="#231815" stroke-width="2" />
<line x1="726.5" y1="800.3" x2="726.5" y2="864.1" stroke="#231815" stroke-width="2" />
<line x1="866.8" y1="800.9" x2="866.8" y2="824.4" stroke="#231815" stroke-width="2" />
<line x1="955.9" y1="800.9" x2="930.9" y2="863.2" stroke="#231815" stroke-width="2" />
<line x1="966.2" y1="800.9" x2="966.2" y2="824.4" stroke="#231815" stroke-width="2" />
<text x="282.5" y="842.2" font-size="21.2" text-anchor="middle">3814 bp</text>
<text x="423.7" y="842.2" font-size="21.2" text-anchor="middle">26 bp</text>
<text x="505.4" y="842.2" font-size="21.2" text-anchor="middle">437 bp</text>
<text x="604" y="842.2" font-size="21.2" text-anchor="middle">499 bp</text>
<text x="873" y="842.2" font-size="21.2" text-anchor="middle">2608 bp</text>
<text x="981.8" y="842.2" font-size="21.2" text-anchor="middle">9 bp</text>
<text x="181.3" y="883" font-size="21.2" text-anchor="middle">815 bp</text>
<text x="334.3" y="883" font-size="21.2" text-anchor="middle">523 bp</text>
<text x="457.7" y="883" font-size="21.2" text-anchor="middle">1110 bp</text>
<text x="570" y="883" font-size="21.2" text-anchor="middle">696 bp</text>
<text x="732.2" y="883" font-size="21.2" text-anchor="middle">4899 bp</text>
<text x="932.6" y="883" font-size="21.2" text-anchor="middle">308 bp</text>
<line x1="215.3" y1="937.4" x2="867.8" y2="937.4" stroke="#231815" stroke-width="2.8" />
<rect x="304.9" y="922.3" width="475.9" height="30.1" fill="#FFF799" stroke="#000" stroke-width="2.1" />
<text x="541.8" y="941.2" font-size="25.6" text-anchor="middle">spacer</text>
<polygon points="275.6,981.7 312.6,966.7 312.6,997.7" fill="#594A42" stroke="#000" stroke-width="1.4"/>
<polygon points="757.1,966.7 817.4,981.7 757.1,997.7" fill="#594A42" stroke="#000" stroke-width="1.4"/>
<line x1="313" y1="981.7" x2="371.6" y2="981.7" stroke="#231815" stroke-width="1.7" />
<line x1="701.1" y1="981.7" x2="757" y2="981.7" stroke="#231815" stroke-width="1.7" />
<text x="376" y="988.4" font-size="25.5"><tspan font-style="italic">mariner</tspan>-like terminal repeats</text>
<polygon points="376,1011.4 608.5,1011.4 634.4,1026 608.5,1040.7 376,1040.7" fill="#A6937C" stroke="#000" stroke-width="1.8"/>
<line x1="634.4" y1="1026" x2="672.3" y2="1026" stroke="#231815" stroke-width="1.7" />
<text x="673.1" y="1032.2" font-size="25.5"><tspan font-style="italic">reverse transcriptase</tspan>-like</text>
<polygon points="571,1055.8 715.3,1055.8 732.5,1070.9 715.3,1086 571,1086" fill="#D3C0A5" stroke="#000" stroke-width="1.8"/>
<line x1="732.5" y1="1070.9" x2="761.4" y2="1070.9" stroke="#231815" stroke-width="1.7" />
<text x="770.6" y="1079.5" font-size="25.2">ncRNA</text>
<!-- panel e -->
<text x="1057.9" y="612.8" font-size="28.4" font-weight="bold">e</text>
<path d="M1332.8,721.8 C1332.8,843.2 1717.8,843.2 1717.8,964.6" fill="none" stroke="#FFD65C" stroke-width="1.1" />
<path d="M1581,721.8 C1581,843.2 1350.5,843.2 1350.5,964.6" fill="none" stroke="#00B9EF" stroke-width="1" />
<path d="M1581.6,721.8 C1581.6,843.2 1353.6,843.2 1353.6,964.6" fill="none" stroke="#00B9EF" stroke-width="1" />
<path d="M1565.5,721.8 C1565.5,843.2 1507.6,843.2 1507.6,964.6" fill="none" stroke="#00B9EF" stroke-width="1" />
<path d="M1651.4,721.8 C1651.4,843.2 1365,843.2 1365,964.6" fill="none" stroke="#00B9EF" stroke-width="1" />
<path d="M1651,721.8 C1651,843.2 1378,843.2 1378,964.6" fill="none" stroke="#00B9EF" stroke-width="1" />
<path d="M1651.8,721.8 C1651.8,843.2 1392,843.2 1392,964.6" fill="none" stroke="#00B9EF" stroke-width="1" />
<path d="M1606,721.8 C1606,843.2 1522,843.2 1522,964.6" fill="none" stroke="#00B9EF" stroke-width="1" />
<path d="M1627.2,721.8 C1627.2,843.2 1747.9,843.2 1747.9,964.6" fill="none" stroke="#00B9EF" stroke-width="1" />
<path d="M1627.6,721.8 C1627.6,843.2 1752,843.2 1752,964.6" fill="none" stroke="#00B9EF" stroke-width="1" />
<path d="M1628,721.8 C1628,843.2 1756.5,843.2 1756.5,964.6" fill="none" stroke="#00B9EF" stroke-width="1" />
<path d="M1628.4,721.8 C1628.4,843.2 1761.5,843.2 1761.5,964.6" fill="none" stroke="#00B9EF" stroke-width="1" />
<path d="M1655,721.8 C1655,843.2 1966.8,843.2 1966.8,964.6" fill="none" stroke="#00B9EF" stroke-width="1" />
<path d="M1610.2,721.8 C1610.2,843.2 1361.4,843.2 1361.4,964.6" fill="none" stroke="#00B9EF" stroke-width="1" />
<path d="M1610.6,721.8 C1610.6,843.2 1363.5,843.2 1363.5,964.6" fill="none" stroke="#00B9EF" stroke-width="1" />
<path d="M1611,721.8 C1611,843.2 1366,843.2 1366,964.6" fill="none" stroke="#00B9EF" stroke-width="1" />
<path d="M1611.4,721.8 C1611.4,843.2 1368.3,843.2 1368.3,964.6" fill="none" stroke="#00B9EF" stroke-width="1" />
<path d="M1615.6,721.8 C1615.6,843.2 1397.2,843.2 1397.2,964.6" fill="none" stroke="#00B9EF" stroke-width="1" />
<path d="M1558.1,721.8 C1558.1,843.2 1511.7,843.2 1511.7,964.6 L1533.2,964.6 C1533.2,843.2 1560,843.2 1560,721.8 Z" fill="#00B9EF" stroke="#00B9EF" stroke-width="0.8" />
<path d="M1614,721.8 C1614,843.2 1381.4,843.2 1381.4,964.6 L1394.6,964.6 C1394.6,843.2 1615.4,843.2 1615.4,721.8 Z" fill="#00B9EF" stroke="#00B9EF" stroke-width="0.8" />
<path d="M1611.6,721.8 C1611.6,843.2 1438.7,843.2 1438.7,964.6 L1456.4,964.6 C1456.4,843.2 1613.4,843.2 1613.4,721.8 Z" fill="#00B9EF" stroke="#00B9EF" stroke-width="0.8" />
<path d="M1629,721.8 C1629,843.2 1772.5,843.2 1772.5,964.6 L1782.2,964.6 C1782.2,843.2 1630.2,843.2 1630.2,721.8 Z" fill="#00B9EF" stroke="#00B9EF" stroke-width="0.8" />
<path d="M1655.6,721.8 C1655.6,843.2 2021.3,843.2 2021.3,964.6 L2033.6,964.6 C2033.6,843.2 1656.8,843.2 1656.8,721.8 Z" fill="#00B9EF" stroke="#00B9EF" stroke-width="0.8" />
<rect x="1264.6" y="692.9" width="128.1" height="28.7" fill="#F9CE8D" stroke="#000" stroke-width="1.9" />
<rect x="1395.5" y="692.9" width="128.6" height="28.7" fill="#F9CE8D" stroke="#000" stroke-width="1.9" />
<rect x="1526.8" y="692.9" width="138.5" height="28.7" fill="#F9CE8D" stroke="#000" stroke-width="1.9" />
<rect x="1668" y="692.9" width="154.3" height="28.7" fill="#F9CE8D" stroke="#000" stroke-width="1.9" />
<rect x="1825" y="692.9" width="174.5" height="28.7" fill="#F9CE8D" stroke="#000" stroke-width="1.9" />
<rect x="2002.2" y="692.9" width="9.8" height="28.7" fill="#F9CE8D" stroke="#000" stroke-width="1.9" />
<rect x="2014.8" y="692.9" width="22.9" height="28.7" fill="#F9CE8D" stroke="#000" stroke-width="1.9" />
<line x1="1264" y1="722.3" x2="1333" y2="722.3" stroke="#000" stroke-width="1.6" />
<rect x="1264.6" y="965.4" width="773.1" height="28.8" fill="#7ECEF4" stroke="#000" stroke-width="1.9" />
<text x="1329" y="688.4" font-size="22.5" text-anchor="middle">X</text>
<text x="1460.9" y="688.4" font-size="22.5" text-anchor="middle">2L</text>
<text x="1599.9" y="688.4" font-size="22.5" text-anchor="middle">2R</text>
<text x="1747" y="688.4" font-size="22.5" text-anchor="middle">3L</text>
<text x="1916.6" y="688.4" font-size="22.5" text-anchor="middle">3R</text>
<text x="2005.2" y="688.4" font-size="22.5" text-anchor="middle">4</text>
<text x="2025.2" y="688.4" font-size="22.5" text-anchor="middle">Y</text>
<text x="1254.5" y="714.5" font-size="25.5" text-anchor="end" font-style="italic">D. melanogaster</text>
<text x="1255.5" y="987.2" font-size="25.2" text-anchor="end"><tspan font-style="italic">M</tspan><tspan font-style="italic" font-size="14.36" dy="-7.56">V</tspan><tspan dy="7.56" dx="1.2">-contig</tspan></text>
<!-- panel f -->
<text x="25.4" y="1132.6" font-size="28.4" font-weight="bold">f</text>
<rect x="248.9" y="1158" width="831.1" height="27.3" fill="#7ECEF4" />
<rect x="1202.4" y="1157.6" width="831.7" height="27.5" fill="none" stroke="#808080" stroke-width="2" stroke-dasharray="8.3 8" />
<text x="265.8" y="1178.7" font-size="20" textLength="1751.9" lengthAdjust="spacing">GCGCATATTTGGCTGGCTTAAGTCATCGGCTGGCTTCTTCGTATATGAACAAAGGAGTTTTAGGTTATGTGCGTGAAGATAAAATCGATTTTAACTAGCGAAGACAACACCCAGTCTGGGCGC</text>
<text x="265.8" y="1140.6" font-size="20.3">3,770,193 bp</text>
<text x="2017.9" y="1140.6" font-size="20.3" text-anchor="end">3,770,315 bp</text>
<line x1="272" y1="1146.4" x2="272" y2="1158" stroke="#231815" stroke-width="2.1" />
<line x1="2010.4" y1="1146.4" x2="2010.4" y2="1158" stroke="#231815" stroke-width="2.1" />
<rect x="249.5" y="1238.6" width="831.7" height="27.1" fill="none" stroke="#808080" stroke-width="2" stroke-dasharray="8.3 8" />
<rect x="1202.8" y="1238.2" width="831.5" height="27.3" fill="#FACD89" />
<text x="265.8" y="1258.9" font-size="20" textLength="1751.9" lengthAdjust="spacing">GCGCCCAGACTGGGTGTTGTCTTCGCTAGTTAAAATCGATTTTATCTTCACGCACATTTTTAGGTTGAACTAGTTCGATTTTGGCCCTAGGCTCCTTTGTTCATTTCCGAAGAAGCCAGCCGA</text>
<text x="265.8" y="1223.6" font-size="20.3">3,801,393 bp</text>
<text x="2017.9" y="1223.6" font-size="20.3" text-anchor="end">3,801,515 bp</text>
<line x1="272" y1="1229.4" x2="272" y2="1241" stroke="#231815" stroke-width="2.1" />
<line x1="2010.4" y1="1229.4" x2="2010.4" y2="1241" stroke="#231815" stroke-width="2.1" />
<rect x="248.9" y="1320.5" width="831.1" height="27.3" fill="#7ECEF4" />
<rect x="1202.8" y="1320.5" width="831.5" height="27.3" fill="#FACD89" />
<text x="265.8" y="1341.2" font-size="20" textLength="1751.9" lengthAdjust="spacing">GCGCATATTTGGCTGGCTTAAGTCATCGGCTGGCTTCTTCGTATATGAACAAAGGAGTTTTAGGTTGAACTAGTTCGATTTTGGCCCTAGGCTCCTTTGTTCATTTCCGAAGAAGCCAGCCGA</text>
<text x="265.8" y="1303.1" font-size="20.3">2,020,736 bp</text>
<text x="2017.9" y="1303.1" font-size="20.3" text-anchor="end">2,020,858 bp</text>
<line x1="272" y1="1308.9" x2="272" y2="1320.5" stroke="#231815" stroke-width="2.1" />
<line x1="2010.4" y1="1308.9" x2="2010.4" y2="1320.5" stroke="#231815" stroke-width="2.1" />
<rect x="248.9" y="1403.2" width="831.1" height="27.3" fill="#7ECEF4" />
<rect x="1202.8" y="1403.2" width="831.5" height="27.3" fill="#FACD89" />
<text x="265.8" y="1423.9" font-size="20" textLength="1751.9" lengthAdjust="spacing">GCGCATATTTGGCTGGCTTAAGTCATCGGCTGGCTTCTTCGTATATGAACAAAGGAGTTTTAGGTTGAACTAGTTCGATTTTGGCCCTAGGCTCCTTTGTTCATTTCCGAAGAAGCCAGCCGA</text>
<text x="265.8" y="1385.8" font-size="20.3">37,317 bp</text>
<text x="2017.9" y="1385.8" font-size="20.3" text-anchor="end">37,195 bp</text>
<line x1="272" y1="1391.6" x2="272" y2="1403.2" stroke="#231815" stroke-width="2.1" />
<line x1="2010.4" y1="1391.6" x2="2010.4" y2="1403.2" stroke="#231815" stroke-width="2.1" />
<rect x="1080.3" y="1150.6" width="122.2" height="285.7" fill="none" stroke="#FF0000" stroke-width="2.2" stroke-dasharray="8 7.8" />
<text x="219.9" y="1166.8" font-size="24" text-anchor="end"><tspan font-style="italic">M</tspan><tspan font-style="italic" font-size="13.68" dy="-7.2">V</tspan><tspan dy="7.2" dx="1.2">-contig</tspan></text>
<text x="219.9" y="1191.8" font-size="24" text-anchor="end"><tspan font-style="italic">(</tspan><tspan font-style="italic">M</tspan><tspan font-style="italic" font-size="13.68" dy="-7.2">V</tspan><tspan dy="7.2" dx="1.2"> upstream)</tspan></text>
<text x="219.9" y="1248.8" font-size="24" text-anchor="end"><tspan font-style="italic">M</tspan><tspan font-style="italic" font-size="13.68" dy="-7.2">V</tspan><tspan dy="7.2" dx="1.2">-contig</tspan></text>
<text x="219.9" y="1273.5" font-size="24" text-anchor="end"><tspan font-style="italic">(</tspan><tspan font-style="italic">M</tspan><tspan font-style="italic" font-size="13.68" dy="-7.2">V</tspan><tspan dy="7.2" dx="1.2"> downstream)</tspan></text>
<text x="219.9" y="1329.6" font-size="24" text-anchor="end">non-<tspan font-style="italic">M</tspan><tspan font-style="italic" font-size="13.68" dy="-7.2">V</tspan><tspan dy="7.2" dx="1.2">-contig</tspan><tspan font-size="12" dy="-7.92" dx="1">M5</tspan></text>
<text x="219.9" y="1354.6" font-size="24" text-anchor="end">(FWD)</text>
<text x="219.9" y="1411.6" font-size="24" text-anchor="end">non-<tspan font-style="italic">M</tspan><tspan font-style="italic" font-size="13.68" dy="-7.2">V</tspan><tspan dy="7.2" dx="1.2">-contig</tspan><tspan font-size="12" dy="-7.92" dx="1">M3</tspan></text>
<text x="219.9" y="1436.3" font-size="24" text-anchor="end">(REV)</text>
<!-- panel g -->
<text x="22.9" y="1483.3" font-size="28.4" font-weight="bold">g</text>
<path d="M510.2,1589.33L510.77,1589.9M510.2,1583.43L516.67,1589.9M510.2,1577.53L522.57,1589.9M510.2,1571.63L528.47,1589.9M510.2,1565.73L534.37,1589.9M510.2,1559.83L540.27,1589.9M516.27,1554.1L546,1583.83M522.17,1554.1L546,1577.93M528.07,1554.1L546,1572.03M533.97,1554.1L546,1566.13M539.87,1554.1L546,1560.23M545.77,1554.1L546,1554.33" fill="none" stroke="#0000FF" stroke-width="2.2" />
<line x1="538.6" y1="1553.6" x2="538.6" y2="1590.4" stroke="#fff" stroke-width="1.6" stroke-dasharray="2.6 2.2" />
<line x1="509.7" y1="1580.5" x2="546.5" y2="1580.5" stroke="#fff" stroke-width="1.6" stroke-dasharray="2.6 2.2" />
<path d="M718,1589.5L717.6,1589.9M718,1583.6L711.7,1589.9M718,1577.7L705.8,1589.9M718,1571.8L699.9,1589.9M718,1565.9L694,1589.9M718,1560L688.1,1589.9M718,1554.1L682.2,1589.9M712.1,1554.1L676.3,1589.9M706.2,1554.1L670.4,1589.9M700.3,1554.1L664.5,1589.9M694.4,1554.1L658.6,1589.9M688.5,1554.1L652.7,1589.9M682.6,1554.1L646.8,1589.9M676.7,1554.1L643.5,1587.3M670.8,1554.1L643.5,1581.4M664.9,1554.1L643.5,1575.5M659,1554.1L643.5,1569.6M653.1,1554.1L643.5,1563.7M647.2,1554.1L643.5,1557.8" fill="none" stroke="#FFA500" stroke-width="2.2" />
<line x1="650.8" y1="1553.6" x2="650.8" y2="1590.4" stroke="#fff" stroke-width="1.6" stroke-dasharray="2.6 2.2" />
<line x1="711.9" y1="1553.6" x2="711.9" y2="1590.4" stroke="#fff" stroke-width="1.6" stroke-dasharray="2.6 2.2" />
<line x1="643" y1="1580.5" x2="718.5" y2="1580.5" stroke="#fff" stroke-width="1.6" stroke-dasharray="2.6 2.2" />
<path d="M546,1758.9L543,1761.9M546,1753L537.1,1761.9M546,1747.1L531.2,1761.9M546,1741.2L525.3,1761.9M546,1735.3L519.4,1761.9M546,1729.4L513.5,1761.9M546,1723.5L510.2,1759.3M546,1717.6L510.2,1753.4M546,1711.7L510.2,1747.5M546,1705.8L510.2,1741.6M546,1699.9L510.2,1735.7M546,1694L510.2,1729.8M546,1688.1L510.2,1723.9M540.1,1688.1L510.2,1718M534.2,1688.1L510.2,1712.1M528.3,1688.1L510.2,1706.2M522.4,1688.1L510.2,1700.3M516.5,1688.1L510.2,1694.4M510.6,1688.1L510.2,1688.5" fill="none" stroke="#FFA500" stroke-width="2.2" />
<line x1="535.3" y1="1687.6" x2="535.3" y2="1762.4" stroke="#fff" stroke-width="1.6" stroke-dasharray="2.6 2.2" />
<line x1="509.7" y1="1694.8" x2="546.5" y2="1694.8" stroke="#fff" stroke-width="1.6" stroke-dasharray="2.6 2.2" />
<line x1="509.7" y1="1751.9" x2="546.5" y2="1751.9" stroke="#fff" stroke-width="1.6" stroke-dasharray="2.6 2.2" />
<path d="M643.5,1757.81L647.59,1761.9M643.5,1751.91L653.49,1761.9M643.5,1746.01L659.39,1761.9M643.5,1740.11L665.29,1761.9M643.5,1734.21L671.19,1761.9M643.5,1728.31L677.09,1761.9M643.5,1722.41L682.99,1761.9M643.5,1716.51L688.89,1761.9M643.5,1710.61L694.79,1761.9M643.5,1704.71L700.69,1761.9M643.5,1698.81L706.59,1761.9M643.5,1692.91L712.49,1761.9M650.49,1688.1L718,1755.61M656.39,1688.1L718,1749.71M662.29,1688.1L718,1743.81M668.19,1688.1L718,1737.91M674.09,1688.1L718,1732.01M679.99,1688.1L718,1726.11M685.89,1688.1L718,1720.21M691.79,1688.1L718,1714.31M697.69,1688.1L718,1708.41M703.59,1688.1L718,1702.51M709.49,1688.1L718,1696.61M715.39,1688.1L718,1690.71" fill="none" stroke="#0000FF" stroke-width="2.2" />
<line x1="650.8" y1="1687.6" x2="650.8" y2="1762.4" stroke="#fff" stroke-width="1.6" stroke-dasharray="2.6 2.2" />
<line x1="711.9" y1="1687.6" x2="711.9" y2="1762.4" stroke="#fff" stroke-width="1.6" stroke-dasharray="2.6 2.2" />
<line x1="643" y1="1694.8" x2="718.5" y2="1694.8" stroke="#fff" stroke-width="1.6" stroke-dasharray="2.6 2.2" />
<line x1="643" y1="1751.9" x2="718.5" y2="1751.9" stroke="#fff" stroke-width="1.6" stroke-dasharray="2.6 2.2" />
<line x1="463.8" y1="1507.6" x2="777.4" y2="1820.7" stroke="#0000FF" stroke-width="2.2" />
<line x1="727.8" y1="1546.4" x2="718.4" y2="1555.8" stroke="#FFA500" stroke-width="2" />
<line x1="643" y1="1591.5" x2="600.8" y2="1633.8" stroke="#FFA500" stroke-width="2" />
<line x1="590" y1="1645.9" x2="546.1" y2="1689.8" stroke="#FFA500" stroke-width="2" />
<line x1="510.3" y1="1763.9" x2="502.6" y2="1771.6" stroke="#FFA500" stroke-width="2" />
<polygon points="552.1,1572.6 571.8,1564.1 567.86,1570.5 591.3,1570.5 591.3,1574.7 567.86,1574.7 571.8,1581.1" fill="#E60012"/>
<polygon points="637.4,1726.4 617.7,1717.9 621.64,1724.3 597.8,1724.3 597.8,1728.5 621.64,1728.5 617.7,1734.9" fill="#E60012"/>
<rect x="463.8" y="1507.6" width="313.6" height="313.1" fill="none" stroke="#000" stroke-width="2.1" />
<line x1="463.8" y1="1500.1" x2="463.8" y2="1507.6" stroke="#000" stroke-width="1.6" />
<line x1="533.4" y1="1500.1" x2="533.4" y2="1507.6" stroke="#000" stroke-width="1.6" />
<line x1="603" y1="1500.1" x2="603" y2="1507.6" stroke="#000" stroke-width="1.6" />
<line x1="672.6" y1="1500.1" x2="672.6" y2="1507.6" stroke="#000" stroke-width="1.6" />
<line x1="742.2" y1="1500.1" x2="742.2" y2="1507.6" stroke="#000" stroke-width="1.6" />
<line x1="456.3" y1="1507.6" x2="463.8" y2="1507.6" stroke="#000" stroke-width="1.6" />
<line x1="456.3" y1="1577.2" x2="463.8" y2="1577.2" stroke="#000" stroke-width="1.6" />
<line x1="456.3" y1="1646.8" x2="463.8" y2="1646.8" stroke="#000" stroke-width="1.6" />
<line x1="456.3" y1="1716.4" x2="463.8" y2="1716.4" stroke="#000" stroke-width="1.6" />
<line x1="456.3" y1="1786" x2="463.8" y2="1786" stroke="#000" stroke-width="1.6" />
<text x="460.6" y="1491.7" font-size="20">202</text>
<text x="761" y="1491.7" font-size="20">211</text>
<text x="452.4" y="1514.4" font-size="20" text-anchor="end">202</text>
<text x="452.4" y="1821.4" font-size="20" text-anchor="end">211</text>
<text x="381" y="1662" font-size="24.3" text-anchor="middle" transform="rotate(-90 381 1662)">Contig1321 [kb]</text>
<text x="411.6" y="1662" font-size="24.3" text-anchor="middle" transform="rotate(-90 411.6 1662)">Self-aligned</text>
<path d="M1031.9,1618.34L1032.26,1618.7M1031.9,1615.29L1035.31,1618.7M1031.9,1612.24L1038.36,1618.7M1031.9,1609.19L1041.41,1618.7M1031.9,1606.14L1044.46,1618.7M1031.9,1603.09L1047.51,1618.7M1031.9,1600.04L1050.56,1618.7M1031.9,1596.99L1053.61,1618.7M1031.9,1593.94L1056.66,1618.7M1031.9,1590.89L1059.71,1618.7M1031.9,1587.84L1062.76,1618.7M1031.9,1584.79L1065.81,1618.7M1031.9,1581.74L1068.86,1618.7M1031.9,1578.69L1071.91,1618.7M1031.9,1575.64L1074.96,1618.7M1031.9,1572.59L1078.01,1618.7M1031.9,1569.54L1081.06,1618.7M1031.9,1566.49L1084.11,1618.7M1031.9,1563.44L1087.16,1618.7M1031.9,1560.39L1090.21,1618.7M1031.9,1557.34L1093.26,1618.7M1035.46,1554.8L1095.4,1614.74M1038.51,1554.8L1095.4,1611.69M1041.56,1554.8L1095.4,1608.64M1044.61,1554.8L1095.4,1605.59M1047.66,1554.8L1095.4,1602.54M1050.71,1554.8L1095.4,1599.49M1053.76,1554.8L1095.4,1596.44M1056.81,1554.8L1095.4,1593.39M1059.86,1554.8L1095.4,1590.34M1062.91,1554.8L1095.4,1587.29M1065.96,1554.8L1095.4,1584.24M1069.01,1554.8L1095.4,1581.19M1072.06,1554.8L1095.4,1578.14M1075.11,1554.8L1095.4,1575.09M1078.16,1554.8L1095.4,1572.04M1081.21,1554.8L1095.4,1568.99M1084.26,1554.8L1095.4,1565.94M1087.31,1554.8L1095.4,1562.89M1090.36,1554.8L1095.4,1559.84M1093.41,1554.8L1095.4,1556.79" fill="none" stroke="#0000FF" stroke-width="1.85" />
<line x1="1071.9" y1="1554.3" x2="1071.9" y2="1619.2" stroke="#fff" stroke-width="1.1" stroke-dasharray="1.5 3.1" />
<line x1="1031.4" y1="1595.3" x2="1095.9" y2="1595.3" stroke="#fff" stroke-width="1.1" stroke-dasharray="1.5 3.1" />
<path d="M1265.4,1615.8L1262.5,1618.7M1265.4,1612.75L1259.45,1618.7M1265.4,1609.7L1256.4,1618.7M1265.4,1606.65L1253.35,1618.7M1265.4,1603.6L1250.3,1618.7M1265.4,1600.55L1247.25,1618.7M1265.4,1597.5L1244.2,1618.7M1265.4,1594.45L1241.15,1618.7M1265.4,1591.4L1238.1,1618.7M1265.4,1588.35L1235.05,1618.7M1265.4,1585.3L1232,1618.7M1265.4,1582.25L1228.95,1618.7M1265.4,1579.2L1225.9,1618.7M1265.4,1576.15L1222.85,1618.7M1265.4,1573.1L1219.8,1618.7M1265.4,1570.05L1216.75,1618.7M1265.4,1567L1213.7,1618.7M1265.4,1563.95L1210.65,1618.7M1265.4,1560.9L1207.6,1618.7M1265.4,1557.85L1204.55,1618.7M1265.4,1554.8L1201.5,1618.7M1262.35,1554.8L1198.45,1618.7M1259.3,1554.8L1195.4,1618.7M1256.25,1554.8L1192.35,1618.7M1253.2,1554.8L1189.3,1618.7M1250.15,1554.8L1186.25,1618.7M1247.1,1554.8L1183.2,1618.7M1244.05,1554.8L1180.15,1618.7M1241,1554.8L1177.1,1618.7M1237.95,1554.8L1174.05,1618.7M1234.9,1554.8L1171,1618.7M1231.85,1554.8L1167.95,1618.7M1228.8,1554.8L1164.9,1618.7M1225.75,1554.8L1161.85,1618.7M1222.7,1554.8L1161.8,1615.7M1219.65,1554.8L1161.8,1612.65M1216.6,1554.8L1161.8,1609.6M1213.55,1554.8L1161.8,1606.55M1210.5,1554.8L1161.8,1603.5M1207.45,1554.8L1161.8,1600.45M1204.4,1554.8L1161.8,1597.4M1201.35,1554.8L1161.8,1594.35M1198.3,1554.8L1161.8,1591.3M1195.25,1554.8L1161.8,1588.25M1192.2,1554.8L1161.8,1585.2M1189.15,1554.8L1161.8,1582.15M1186.1,1554.8L1161.8,1579.1M1183.05,1554.8L1161.8,1576.05M1180,1554.8L1161.8,1573M1176.95,1554.8L1161.8,1569.95M1173.9,1554.8L1161.8,1566.9M1170.85,1554.8L1161.8,1563.85M1167.8,1554.8L1161.8,1560.8M1164.75,1554.8L1161.8,1557.75" fill="none" stroke="#FFA500" stroke-width="1.8" />
<line x1="1172.9" y1="1554.3" x2="1172.9" y2="1619.2" stroke="#fff" stroke-width="1.1" stroke-dasharray="1.5 3.1" />
<line x1="1201.6" y1="1554.3" x2="1201.6" y2="1619.2" stroke="#fff" stroke-width="1.1" stroke-dasharray="1.5 3.1" />
<line x1="1233.7" y1="1554.3" x2="1233.7" y2="1619.2" stroke="#fff" stroke-width="1.1" stroke-dasharray="1.5 3.1" />
<line x1="1161.3" y1="1595.3" x2="1265.9" y2="1595.3" stroke="#fff" stroke-width="1.1" stroke-dasharray="1.5 3.1" />
<path d="M1095.4,1785.85L1092.45,1788.8M1095.4,1782.8L1089.4,1788.8M1095.4,1779.75L1086.35,1788.8M1095.4,1776.7L1083.3,1788.8M1095.4,1773.65L1080.25,1788.8M1095.4,1770.6L1077.2,1788.8M1095.4,1767.55L1074.15,1788.8M1095.4,1764.5L1071.1,1788.8M1095.4,1761.45L1068.05,1788.8M1095.4,1758.4L1065,1788.8M1095.4,1755.35L1061.95,1788.8M1095.4,1752.3L1058.9,1788.8M1095.4,1749.25L1055.85,1788.8M1095.4,1746.2L1052.8,1788.8M1095.4,1743.15L1049.75,1788.8M1095.4,1740.1L1046.7,1788.8M1095.4,1737.05L1043.65,1788.8M1095.4,1734L1040.6,1788.8M1095.4,1730.95L1037.55,1788.8M1095.4,1727.9L1034.5,1788.8M1095.4,1724.85L1031.9,1788.35M1095.4,1721.8L1031.9,1785.3M1095.4,1718.75L1031.9,1782.25M1095.4,1715.7L1031.9,1779.2M1095.4,1712.65L1031.9,1776.15M1095.4,1709.6L1031.9,1773.1M1095.4,1706.55L1031.9,1770.05M1095.4,1703.5L1031.9,1767M1095.4,1700.45L1031.9,1763.95M1095.4,1697.4L1031.9,1760.9M1095.4,1694.35L1031.9,1757.85M1095.4,1691.3L1031.9,1754.8M1095.4,1688.25L1031.9,1751.75M1095.4,1685.2L1031.9,1748.7M1092.35,1685.2L1031.9,1745.65M1089.3,1685.2L1031.9,1742.6M1086.25,1685.2L1031.9,1739.55M1083.2,1685.2L1031.9,1736.5M1080.15,1685.2L1031.9,1733.45M1077.1,1685.2L1031.9,1730.4M1074.05,1685.2L1031.9,1727.35M1071,1685.2L1031.9,1724.3M1067.95,1685.2L1031.9,1721.25M1064.9,1685.2L1031.9,1718.2M1061.85,1685.2L1031.9,1715.15M1058.8,1685.2L1031.9,1712.1M1055.75,1685.2L1031.9,1709.05M1052.7,1685.2L1031.9,1706M1049.65,1685.2L1031.9,1702.95M1046.6,1685.2L1031.9,1699.9M1043.55,1685.2L1031.9,1696.85M1040.5,1685.2L1031.9,1693.8M1037.45,1685.2L1031.9,1690.75M1034.4,1685.2L1031.9,1687.7" fill="none" stroke="#FFA500" stroke-width="1.8" />
<line x1="1071.9" y1="1684.7" x2="1071.9" y2="1789.3" stroke="#fff" stroke-width="1.1" stroke-dasharray="1.5 3.1" />
<line x1="1031.4" y1="1697" x2="1095.9" y2="1697" stroke="#fff" stroke-width="1.1" stroke-dasharray="1.5 3.1" />
<line x1="1031.4" y1="1725" x2="1095.9" y2="1725" stroke="#fff" stroke-width="1.1" stroke-dasharray="1.5 3.1" />
<line x1="1031.4" y1="1757.1" x2="1095.9" y2="1757.1" stroke="#fff" stroke-width="1.1" stroke-dasharray="1.5 3.1" />
<path d="M1161.8,1787.85L1162.75,1788.8M1161.8,1784.8L1165.8,1788.8M1161.8,1781.75L1168.85,1788.8M1161.8,1778.7L1171.9,1788.8M1161.8,1775.65L1174.95,1788.8M1161.8,1772.6L1178,1788.8M1161.8,1769.55L1181.05,1788.8M1161.8,1766.5L1184.1,1788.8M1161.8,1763.45L1187.15,1788.8M1161.8,1760.4L1190.2,1788.8M1161.8,1757.35L1193.25,1788.8M1161.8,1754.3L1196.3,1788.8M1161.8,1751.25L1199.35,1788.8M1161.8,1748.2L1202.4,1788.8M1161.8,1745.15L1205.45,1788.8M1161.8,1742.1L1208.5,1788.8M1161.8,1739.05L1211.55,1788.8M1161.8,1736L1214.6,1788.8M1161.8,1732.95L1217.65,1788.8M1161.8,1729.9L1220.7,1788.8M1161.8,1726.85L1223.75,1788.8M1161.8,1723.8L1226.8,1788.8M1161.8,1720.75L1229.85,1788.8M1161.8,1717.7L1232.9,1788.8M1161.8,1714.65L1235.95,1788.8M1161.8,1711.6L1239,1788.8M1161.8,1708.55L1242.05,1788.8M1161.8,1705.5L1245.1,1788.8M1161.8,1702.45L1248.15,1788.8M1161.8,1699.4L1251.2,1788.8M1161.8,1696.35L1254.25,1788.8M1161.8,1693.3L1257.3,1788.8M1161.8,1690.25L1260.35,1788.8M1161.8,1687.2L1263.4,1788.8M1165.9,1685.2L1265.4,1784.7M1168.95,1685.2L1265.4,1781.65M1172,1685.2L1265.4,1778.6M1175.05,1685.2L1265.4,1775.55M1178.1,1685.2L1265.4,1772.5M1181.15,1685.2L1265.4,1769.45M1184.2,1685.2L1265.4,1766.4M1187.25,1685.2L1265.4,1763.35M1190.3,1685.2L1265.4,1760.3M1193.35,1685.2L1265.4,1757.25M1196.4,1685.2L1265.4,1754.2M1199.45,1685.2L1265.4,1751.15M1202.5,1685.2L1265.4,1748.1M1205.55,1685.2L1265.4,1745.05M1208.6,1685.2L1265.4,1742M1211.65,1685.2L1265.4,1738.95M1214.7,1685.2L1265.4,1735.9M1217.75,1685.2L1265.4,1732.85M1220.8,1685.2L1265.4,1729.8M1223.85,1685.2L1265.4,1726.75M1226.9,1685.2L1265.4,1723.7M1229.95,1685.2L1265.4,1720.65M1233,1685.2L1265.4,1717.6M1236.05,1685.2L1265.4,1714.55M1239.1,1685.2L1265.4,1711.5M1242.15,1685.2L1265.4,1708.45M1245.2,1685.2L1265.4,1705.4M1248.25,1685.2L1265.4,1702.35M1251.3,1685.2L1265.4,1699.3M1254.35,1685.2L1265.4,1696.25M1257.4,1685.2L1265.4,1693.2M1260.45,1685.2L1265.4,1690.15M1263.5,1685.2L1265.4,1687.1" fill="none" stroke="#0000FF" stroke-width="1.85" />
<line x1="1172.9" y1="1684.7" x2="1172.9" y2="1789.3" stroke="#fff" stroke-width="1.1" stroke-dasharray="1.5 3.1" />
<line x1="1201.6" y1="1684.7" x2="1201.6" y2="1789.3" stroke="#fff" stroke-width="1.1" stroke-dasharray="1.5 3.1" />
<line x1="1233.7" y1="1684.7" x2="1233.7" y2="1789.3" stroke="#fff" stroke-width="1.1" stroke-dasharray="1.5 3.1" />
<line x1="1218" y1="1684.7" x2="1218" y2="1789.3" stroke="#fff" stroke-width="1.1" stroke-dasharray="1.5 3.1" />
<line x1="1161.3" y1="1697" x2="1265.9" y2="1697" stroke="#fff" stroke-width="1.1" stroke-dasharray="1.5 3.1" />
<line x1="1161.3" y1="1725" x2="1265.9" y2="1725" stroke="#fff" stroke-width="1.1" stroke-dasharray="1.5 3.1" />
<line x1="1161.3" y1="1757.1" x2="1265.9" y2="1757.1" stroke="#fff" stroke-width="1.1" stroke-dasharray="1.5 3.1" />
<line x1="1161.3" y1="1741.5" x2="1265.9" y2="1741.5" stroke="#fff" stroke-width="1.1" stroke-dasharray="1.5 3.1" />
<line x1="985.4" y1="1507.8" x2="1296.9" y2="1819.2" stroke="#0000FF" stroke-width="2.2" />
<line x1="1271.7" y1="1549.2" x2="1266.4" y2="1554.5" stroke="#FFA500" stroke-width="2" />
<line x1="1161.4" y1="1618.8" x2="1133.6" y2="1646.4" stroke="#FFA500" stroke-width="2" />
<line x1="1123.6" y1="1656.4" x2="1095.7" y2="1684.4" stroke="#FFA500" stroke-width="2" />
<line x1="1031.1" y1="1789.3" x2="1025.9" y2="1794.5" stroke="#FFA500" stroke-width="2" />
<polygon points="1102.6,1590.2 1122.3,1581.7 1118.36,1588.1 1141.4,1588.1 1141.4,1592.3 1118.36,1592.3 1122.3,1598.7" fill="#E60012"/>
<polygon points="1155.1,1744.1 1135.4,1735.6 1139.34,1742 1115.7,1742 1115.7,1746.2 1139.34,1746.2 1135.4,1752.6" fill="#E60012"/>
<rect x="985.4" y="1507.8" width="311.5" height="311.4" fill="none" stroke="#000" stroke-width="2.1" />
<line x1="985.4" y1="1500.3" x2="985.4" y2="1507.8" stroke="#000" stroke-width="1.6" />
<line x1="1033.3" y1="1500.3" x2="1033.3" y2="1507.8" stroke="#000" stroke-width="1.6" />
<line x1="1081.2" y1="1500.3" x2="1081.2" y2="1507.8" stroke="#000" stroke-width="1.6" />
<line x1="1129.1" y1="1500.3" x2="1129.1" y2="1507.8" stroke="#000" stroke-width="1.6" />
<line x1="1177" y1="1500.3" x2="1177" y2="1507.8" stroke="#000" stroke-width="1.6" />
<line x1="1224.9" y1="1500.3" x2="1224.9" y2="1507.8" stroke="#000" stroke-width="1.6" />
<line x1="1272.8" y1="1500.3" x2="1272.8" y2="1507.8" stroke="#000" stroke-width="1.6" />
<line x1="977.9" y1="1507.8" x2="985.4" y2="1507.8" stroke="#000" stroke-width="1.6" />
<line x1="977.9" y1="1555.7" x2="985.4" y2="1555.7" stroke="#000" stroke-width="1.6" />
<line x1="977.9" y1="1603.6" x2="985.4" y2="1603.6" stroke="#000" stroke-width="1.6" />
<line x1="977.9" y1="1651.5" x2="985.4" y2="1651.5" stroke="#000" stroke-width="1.6" />
<line x1="977.9" y1="1699.4" x2="985.4" y2="1699.4" stroke="#000" stroke-width="1.6" />
<line x1="977.9" y1="1747.3" x2="985.4" y2="1747.3" stroke="#000" stroke-width="1.6" />
<line x1="977.9" y1="1795.2" x2="985.4" y2="1795.2" stroke="#000" stroke-width="1.6" />
<text x="981.2" y="1492.4" font-size="20">91</text>
<text x="1284.6" y="1492.4" font-size="20">104</text>
<text x="975" y="1514.4" font-size="20" text-anchor="end">91</text>
<text x="974.4" y="1821.6" font-size="20" text-anchor="end">104</text>
<text x="911.2" y="1651" font-size="24.3" text-anchor="middle" transform="rotate(-90 911.2 1651)">Contig1514 [kb]</text>
<text x="938.8" y="1651" font-size="24.3" text-anchor="middle" transform="rotate(-90 938.8 1651)">Self-aligned</text>
<path d="M1513.9,1619.1L1517.1,1622.3M1513.9,1614.9L1521.3,1622.3M1513.9,1610.7L1525.5,1622.3M1513.9,1606.5L1529.7,1622.3M1513.9,1602.3L1532.9,1621.3M1513.9,1598.1L1532.9,1617.1M1513.9,1593.9L1532.9,1612.9M1513.9,1589.7L1532.9,1608.7M1513.9,1585.5L1532.9,1604.5M1513.9,1581.3L1532.9,1600.3M1513.9,1577.1L1532.9,1596.1M1513.9,1572.9L1532.9,1591.9M1513.9,1568.7L1532.9,1587.7M1513.9,1564.5L1532.9,1583.5M1513.9,1560.3L1532.9,1579.3M1513.9,1556.1L1532.9,1575.1M1518.1,1556.1L1532.9,1570.9M1522.3,1556.1L1532.9,1566.7M1526.5,1556.1L1532.9,1562.5M1530.7,1556.1L1532.9,1558.3" fill="none" stroke="#0000FF" stroke-width="2" />
<line x1="1513.4" y1="1568.3" x2="1533.4" y2="1568.3" stroke="#fff" stroke-width="1.3" />
<line x1="1513.4" y1="1587.4" x2="1533.4" y2="1587.4" stroke="#fff" stroke-width="1.3" />
<line x1="1513.4" y1="1610" x2="1533.4" y2="1610" stroke="#fff" stroke-width="1.3" />
<path d="M1536.1,1619.1L1539.3,1622.3M1536.1,1614.9L1540.9,1619.7M1536.1,1610.7L1540.9,1615.5M1536.1,1606.5L1540.9,1611.3M1536.1,1602.3L1540.9,1607.1M1536.1,1598.1L1540.9,1602.9M1536.1,1593.9L1540.9,1598.7M1536.1,1589.7L1540.9,1594.5M1536.1,1585.5L1540.9,1590.3M1536.1,1581.3L1540.9,1586.1M1536.1,1577.1L1540.9,1581.9M1536.1,1572.9L1540.9,1577.7M1536.1,1568.7L1540.9,1573.5M1536.1,1564.5L1540.9,1569.3M1536.1,1560.3L1540.9,1565.1M1536.1,1556.1L1540.9,1560.9M1540.3,1556.1L1540.9,1556.7" fill="none" stroke="#0000FF" stroke-width="2" stroke-dasharray="2.7 1.6"/>
<path d="M1625.1,1619.1L1621.9,1622.3M1625.1,1614.9L1620.5,1619.5M1625.1,1610.7L1620.5,1615.3M1625.1,1606.5L1620.5,1611.1M1625.1,1602.3L1620.5,1606.9M1625.1,1598.1L1620.5,1602.7M1625.1,1593.9L1620.5,1598.5M1625.1,1589.7L1620.5,1594.3M1625.1,1585.5L1620.5,1590.1M1625.1,1581.3L1620.5,1585.9M1625.1,1577.1L1620.5,1581.7M1625.1,1572.9L1620.5,1577.5M1625.1,1568.7L1620.5,1573.3M1625.1,1564.5L1620.5,1569.1M1625.1,1560.3L1620.5,1564.9M1625.1,1556.1L1620.5,1560.7M1620.9,1556.1L1620.5,1556.5" fill="none" stroke="#FFA500" stroke-width="2" stroke-dasharray="2.7 1.6"/>
<path d="M1661,1619.1L1657.8,1622.3M1661,1614.9L1653.6,1622.3M1661,1610.7L1649.4,1622.3M1661,1606.5L1645.2,1622.3M1661,1602.3L1641,1622.3M1661,1598.1L1636.8,1622.3M1661,1593.9L1632.6,1622.3M1661,1589.7L1628.6,1622.1M1661,1585.5L1628.6,1617.9M1661,1581.3L1628.6,1613.7M1661,1577.1L1628.6,1609.5M1661,1572.9L1628.6,1605.3M1661,1568.7L1628.6,1601.1M1661,1564.5L1628.6,1596.9M1661,1560.3L1628.6,1592.7M1661,1556.1L1628.6,1588.5M1656.8,1556.1L1628.6,1584.3M1652.6,1556.1L1628.6,1580.1M1648.4,1556.1L1628.6,1575.9M1644.2,1556.1L1628.6,1571.7M1640,1556.1L1628.6,1567.5M1635.8,1556.1L1628.6,1563.3M1631.6,1556.1L1628.6,1559.1" fill="none" stroke="#FFA500" stroke-width="2" />
<line x1="1628.1" y1="1568.3" x2="1661.5" y2="1568.3" stroke="#fff" stroke-width="1.3" />
<line x1="1628.1" y1="1587.4" x2="1661.5" y2="1587.4" stroke="#fff" stroke-width="1.3" />
<line x1="1628.1" y1="1610" x2="1661.5" y2="1610" stroke="#fff" stroke-width="1.3" />
<path d="M1678,1619.1L1674.8,1622.3M1678,1614.9L1670.6,1622.3M1678,1610.7L1666.4,1622.3M1678,1606.5L1664,1620.5M1678,1602.3L1664,1616.3M1678,1598.1L1664,1612.1M1678,1593.9L1664,1607.9M1678,1589.7L1664,1603.7M1678,1585.5L1664,1599.5M1678,1581.3L1664,1595.3M1678,1577.1L1664,1591.1M1678,1572.9L1664,1586.9M1678,1568.7L1664,1582.7M1678,1564.5L1664,1578.5M1678,1560.3L1664,1574.3M1678,1556.1L1664,1570.1M1673.8,1556.1L1664,1565.9M1669.6,1556.1L1664,1561.7M1665.4,1556.1L1664,1557.5" fill="none" stroke="#FFA500" stroke-width="2" stroke-dasharray="2.7 1.6"/>
<line x1="1663.5" y1="1568.3" x2="1678.5" y2="1568.3" stroke="#fff" stroke-width="1.3" />
<line x1="1663.5" y1="1587.4" x2="1678.5" y2="1587.4" stroke="#fff" stroke-width="1.3" />
<line x1="1663.5" y1="1610" x2="1678.5" y2="1610" stroke="#fff" stroke-width="1.3" />
<path d="M1532.9,1703.9L1530.3,1706.5M1532.9,1699.7L1526.1,1706.5M1532.9,1695.5L1521.9,1706.5M1532.9,1691.3L1517.7,1706.5M1528.7,1691.3L1513.9,1706.1M1524.5,1691.3L1513.9,1701.9M1520.3,1691.3L1513.9,1697.7M1516.1,1691.3L1513.9,1693.5" fill="none" stroke="#FFA500" stroke-width="2" stroke-dasharray="2.7 1.6"/>
<path d="M1532.9,1795.7L1530.1,1798.5M1532.9,1791.5L1525.9,1798.5M1532.9,1787.3L1521.7,1798.5M1532.9,1783.1L1517.5,1798.5M1532.9,1778.9L1513.9,1797.9M1532.9,1774.7L1513.9,1793.7M1532.9,1770.5L1513.9,1789.5M1532.9,1766.3L1513.9,1785.3M1532.9,1762.1L1513.9,1781.1M1532.9,1757.9L1513.9,1776.9M1532.9,1753.7L1513.9,1772.7M1532.9,1749.5L1513.9,1768.5M1532.9,1745.3L1513.9,1764.3M1532.9,1741.1L1513.9,1760.1M1532.9,1736.9L1513.9,1755.9M1532.9,1732.7L1513.9,1751.7M1532.9,1728.5L1513.9,1747.5M1532.9,1724.3L1513.9,1743.3M1532.9,1720.1L1513.9,1739.1M1532.9,1715.9L1513.9,1734.9M1532.9,1711.7L1513.9,1730.7M1532.9,1707.5L1513.9,1726.5M1528.7,1707.5L1513.9,1722.3M1524.5,1707.5L1513.9,1718.1M1520.3,1707.5L1513.9,1713.9M1516.1,1707.5L1513.9,1709.7" fill="none" stroke="#FFA500" stroke-width="2" />
<line x1="1513.4" y1="1707" x2="1533.4" y2="1707" stroke="#fff" stroke-width="1.3" />
<line x1="1513.4" y1="1729.7" x2="1533.4" y2="1729.7" stroke="#fff" stroke-width="1.3" />
<line x1="1513.4" y1="1766.5" x2="1533.4" y2="1766.5" stroke="#fff" stroke-width="1.3" />
<line x1="1513.4" y1="1779" x2="1533.4" y2="1779" stroke="#fff" stroke-width="1.3" />
<path d="M1540.9,1796.3L1538.7,1798.5M1540.9,1792.1L1536.1,1796.9M1540.9,1787.9L1536.1,1792.7M1540.9,1783.7L1536.1,1788.5M1540.9,1779.5L1536.1,1784.3M1540.9,1775.3L1536.1,1780.1M1540.9,1771.1L1536.1,1775.9M1540.9,1766.9L1536.1,1771.7M1540.9,1762.7L1536.1,1767.5M1540.9,1758.5L1536.1,1763.3M1540.9,1754.3L1536.1,1759.1M1540.9,1750.1L1536.1,1754.9M1540.9,1745.9L1536.1,1750.7M1540.9,1741.7L1536.1,1746.5M1540.9,1737.5L1536.1,1742.3M1540.9,1733.3L1536.1,1738.1M1540.9,1729.1L1536.1,1733.9M1540.9,1724.9L1536.1,1729.7M1540.9,1720.7L1536.1,1725.5M1540.9,1716.5L1536.1,1721.3M1540.9,1712.3L1536.1,1717.1M1540.9,1708.1L1536.1,1712.9M1540.9,1703.9L1536.1,1708.7M1540.9,1699.7L1536.1,1704.5M1540.9,1695.5L1536.1,1700.3M1540.9,1691.3L1536.1,1696.1M1536.7,1691.3L1536.1,1691.9" fill="none" stroke="#FFA500" stroke-width="2" stroke-dasharray="2.7 1.6"/>
<path d="M1620.5,1796.3L1622.7,1798.5M1620.5,1792.1L1625.1,1796.7M1620.5,1787.9L1625.1,1792.5M1620.5,1783.7L1625.1,1788.3M1620.5,1779.5L1625.1,1784.1M1620.5,1775.3L1625.1,1779.9M1620.5,1771.1L1625.1,1775.7M1620.5,1766.9L1625.1,1771.5M1620.5,1762.7L1625.1,1767.3M1620.5,1758.5L1625.1,1763.1M1620.5,1754.3L1625.1,1758.9M1620.5,1750.1L1625.1,1754.7M1620.5,1745.9L1625.1,1750.5M1620.5,1741.7L1625.1,1746.3M1620.5,1737.5L1625.1,1742.1M1620.5,1733.3L1625.1,1737.9M1620.5,1729.1L1625.1,1733.7M1620.5,1724.9L1625.1,1729.5M1620.5,1720.7L1625.1,1725.3M1620.5,1716.5L1625.1,1721.1M1620.5,1712.3L1625.1,1716.9M1620.5,1708.1L1625.1,1712.7M1620.5,1703.9L1625.1,1708.5M1620.5,1699.7L1625.1,1704.3M1620.5,1695.5L1625.1,1700.1M1620.5,1691.3L1625.1,1695.9M1624.7,1691.3L1625.1,1691.7" fill="none" stroke="#0000FF" stroke-width="2" stroke-dasharray="2.7 1.6"/>
<path d="M1628.6,1703.9L1631.2,1706.5M1628.6,1699.7L1635.4,1706.5M1628.6,1695.5L1639.6,1706.5M1628.6,1691.3L1643.8,1706.5M1632.8,1691.3L1648,1706.5M1637,1691.3L1652.2,1706.5M1641.2,1691.3L1656.4,1706.5M1645.4,1691.3L1660.6,1706.5M1649.6,1691.3L1661,1702.7M1653.8,1691.3L1661,1698.5M1658,1691.3L1661,1694.3" fill="none" stroke="#0000FF" stroke-width="2" stroke-dasharray="2.7 1.6"/>
<path d="M1628.6,1795.7L1631.4,1798.5M1628.6,1791.5L1635.6,1798.5M1628.6,1787.3L1639.8,1798.5M1628.6,1783.1L1644,1798.5M1628.6,1778.9L1648.2,1798.5M1628.6,1774.7L1652.4,1798.5M1628.6,1770.5L1656.6,1798.5M1628.6,1766.3L1660.8,1798.5M1628.6,1762.1L1661,1794.5M1628.6,1757.9L1661,1790.3M1628.6,1753.7L1661,1786.1M1628.6,1749.5L1661,1781.9M1628.6,1745.3L1661,1777.7M1628.6,1741.1L1661,1773.5M1628.6,1736.9L1661,1769.3M1628.6,1732.7L1661,1765.1M1628.6,1728.5L1661,1760.9M1628.6,1724.3L1661,1756.7M1628.6,1720.1L1661,1752.5M1628.6,1715.9L1661,1748.3M1628.6,1711.7L1661,1744.1M1628.6,1707.5L1661,1739.9M1632.8,1707.5L1661,1735.7M1637,1707.5L1661,1731.5M1641.2,1707.5L1661,1727.3M1645.4,1707.5L1661,1723.1M1649.6,1707.5L1661,1718.9M1653.8,1707.5L1661,1714.7M1658,1707.5L1661,1710.5" fill="none" stroke="#0000FF" stroke-width="2" />
<line x1="1628.1" y1="1707" x2="1661.5" y2="1707" stroke="#fff" stroke-width="1.3" />
<line x1="1628.1" y1="1729.7" x2="1661.5" y2="1729.7" stroke="#fff" stroke-width="1.3" />
<line x1="1628.1" y1="1766.5" x2="1661.5" y2="1766.5" stroke="#fff" stroke-width="1.3" />
<line x1="1628.1" y1="1779" x2="1661.5" y2="1779" stroke="#fff" stroke-width="1.3" />
<path d="M1664,1796.3L1666.2,1798.5M1664,1792.1L1670.4,1798.5M1664,1787.9L1674.6,1798.5M1664,1783.7L1678,1797.7M1664,1779.5L1678,1793.5M1664,1775.3L1678,1789.3M1664,1771.1L1678,1785.1M1664,1766.9L1678,1780.9M1664,1762.7L1678,1776.7M1664,1758.5L1678,1772.5M1664,1754.3L1678,1768.3M1664,1750.1L1678,1764.1M1664,1745.9L1678,1759.9M1664,1741.7L1678,1755.7M1664,1737.5L1678,1751.5M1664,1733.3L1678,1747.3M1664,1729.1L1678,1743.1M1664,1724.9L1678,1738.9M1664,1720.7L1678,1734.7M1664,1716.5L1678,1730.5M1664,1712.3L1678,1726.3M1664,1708.1L1678,1722.1M1664,1703.9L1678,1717.9M1664,1699.7L1678,1713.7M1664,1695.5L1678,1709.5M1664,1691.3L1678,1705.3M1668.2,1691.3L1678,1701.1M1672.4,1691.3L1678,1696.9M1676.6,1691.3L1678,1692.7" fill="none" stroke="#0000FF" stroke-width="2" stroke-dasharray="2.7 1.6"/>
<line x1="1663.5" y1="1707" x2="1678.5" y2="1707" stroke="#fff" stroke-width="1.3" />
<line x1="1663.5" y1="1729.7" x2="1678.5" y2="1729.7" stroke="#fff" stroke-width="1.3" />
<line x1="1663.5" y1="1766.5" x2="1678.5" y2="1766.5" stroke="#fff" stroke-width="1.3" />
<line x1="1663.5" y1="1779" x2="1678.5" y2="1779" stroke="#fff" stroke-width="1.3" />
<line x1="1507" y1="1550.6" x2="1514" y2="1557" stroke="#0000FF" stroke-width="2" />
<line x1="1541" y1="1623.5" x2="1620.3" y2="1690" stroke="#0000FF" stroke-width="2" stroke-dasharray="7 1.4 2 1.4 4 1.4 9 1.4 2 1.4" />
<line x1="1678.5" y1="1797.5" x2="1686.1" y2="1803.3" stroke="#0000FF" stroke-width="2" />
<line x1="1686.1" y1="1550.6" x2="1678.5" y2="1557" stroke="#FFA500" stroke-width="2" />
<line x1="1620.3" y1="1623.5" x2="1541" y2="1690" stroke="#FFA500" stroke-width="2" stroke-dasharray="7 1.4 2 1.4 4 1.4 9 1.4 2 1.4" />
<line x1="1514" y1="1797.5" x2="1507" y2="1803.3" stroke="#FFA500" stroke-width="2" />
<rect x="1476.5" y="1507.8" width="248.4" height="323.5" fill="none" stroke="#000" stroke-width="2.1" />
<line x1="1476.5" y1="1500.3" x2="1476.5" y2="1507.8" stroke="#000" stroke-width="1.6" />
<line x1="1531.65" y1="1500.3" x2="1531.65" y2="1507.8" stroke="#000" stroke-width="1.6" />
<line x1="1586.8" y1="1500.3" x2="1586.8" y2="1507.8" stroke="#000" stroke-width="1.6" />
<line x1="1641.95" y1="1500.3" x2="1641.95" y2="1507.8" stroke="#000" stroke-width="1.6" />
<line x1="1697.1" y1="1500.3" x2="1697.1" y2="1507.8" stroke="#000" stroke-width="1.6" />
<line x1="1469" y1="1507.8" x2="1476.5" y2="1507.8" stroke="#000" stroke-width="1.6" />
<line x1="1469" y1="1557.4" x2="1476.5" y2="1557.4" stroke="#000" stroke-width="1.6" />
<line x1="1469" y1="1607" x2="1476.5" y2="1607" stroke="#000" stroke-width="1.6" />
<line x1="1469" y1="1656.6" x2="1476.5" y2="1656.6" stroke="#000" stroke-width="1.6" />
<line x1="1469" y1="1706.2" x2="1476.5" y2="1706.2" stroke="#000" stroke-width="1.6" />
<line x1="1469" y1="1755.8" x2="1476.5" y2="1755.8" stroke="#000" stroke-width="1.6" />
<line x1="1469" y1="1805.4" x2="1476.5" y2="1805.4" stroke="#000" stroke-width="1.6" />
<text x="1597.8" y="1476.8" font-size="24.3" text-anchor="middle">Contig1321 [kb]</text>
<text x="1469.7" y="1492.4" font-size="20">202</text>
<text x="1708.7" y="1492.4" font-size="20">211</text>
<text x="1465" y="1514.4" font-size="20" text-anchor="end">91</text>
<text x="1464.6" y="1834" font-size="20" text-anchor="end">104</text>
<text x="1425.2" y="1660" font-size="24.3" text-anchor="middle" transform="rotate(-90 1425.2 1660)">Contig1514 [kb]</text>
<text x="267.3" y="1904.3" font-size="20" textLength="76.73" lengthAdjust="spacing">AGGAG</text>
<text x="345" y="1904.3" font-size="20" textLength="131.97" lengthAdjust="spacing">TTTTAGGTT</text>
<text x="478" y="1904.3" font-size="20" textLength="264.68" lengthAdjust="spacing">ATGTGCGTGAAGATAAAA</text>
<text x="743.7" y="1904.3" font-size="20" textLength="305.06" lengthAdjust="spacing">TCGATTTTAACTAGCGAAGAC</text>
<text x="1293.2" y="1904.3" font-size="20" textLength="287.09" lengthAdjust="spacing">GTCTTCGCTAGTTAAAATCGA</text>
<text x="1581.4" y="1904.3" font-size="20" textLength="242.68" lengthAdjust="spacing">TTTTATCTTCACGCACAT</text>
<text x="1825.2" y="1904.3" font-size="20" textLength="124.61" lengthAdjust="spacing">TTTTAGGTT</text>
<text x="1950.9" y="1904.3" font-size="20" textLength="69.72" lengthAdjust="spacing">GAACT</text>
<text x="267.3" y="1865" font-size="20.3">3,770,245 bp</text>
<text x="2020.6" y="1865" font-size="20.3" text-anchor="end">3,801,464 bp</text>
<line x1="272.8" y1="1872" x2="272.8" y2="1883.3" stroke="#231815" stroke-width="2.2" />
<line x1="2013" y1="1872" x2="2013" y2="1883.3" stroke="#231815" stroke-width="2.2" />
<line x1="1057.5" y1="1897" x2="1282" y2="1897" stroke="#000" stroke-width="2" stroke-dasharray="2.4 6.1" />
<text x="220.6" y="1904.3" font-size="24" text-anchor="end"><tspan font-style="italic">M</tspan><tspan font-style="italic" font-size="13.68" dy="-7.2">V</tspan><tspan dy="7.2" dx="1.2">-contig</tspan></text>
<text x="267.3" y="1985.2" font-size="20" textLength="76.73" lengthAdjust="spacing">AAAGC</text>
<text x="345" y="1985.2" font-size="20" textLength="131.97" lengthAdjust="spacing">CAAAAAAAG</text>
<text x="478" y="1985.2" font-size="20" textLength="264.68" lengthAdjust="spacing">ATGTGCGTGAAGATAAAA</text>
<text x="743.7" y="1985.2" font-size="20" textLength="305.06" lengthAdjust="spacing">ACGTTTTTAATTTTCGAACAC</text>
<text x="1293.2" y="1985.2" font-size="20" textLength="287.09" lengthAdjust="spacing">GTGTTCGAAAATTAAAAACGT</text>
<text x="1581.4" y="1985.2" font-size="20" textLength="242.68" lengthAdjust="spacing">TTTTATCTTCACGCACAT</text>
<text x="1825.2" y="1985.2" font-size="20" textLength="124.61" lengthAdjust="spacing">CAAAAAAAG</text>
<text x="1950.9" y="1985.2" font-size="20" textLength="69.72" lengthAdjust="spacing">ATTGG</text>
<text x="267.3" y="1945.9" font-size="20.3">208,101 bp</text>
<text x="2020.6" y="1945.9" font-size="20.3" text-anchor="end">209,617 bp</text>
<line x1="272.8" y1="1952.9" x2="272.8" y2="1964.2" stroke="#231815" stroke-width="2.2" />
<line x1="2013" y1="1952.9" x2="2013" y2="1964.2" stroke="#231815" stroke-width="2.2" />
<line x1="1057.5" y1="1977.9" x2="1282" y2="1977.9" stroke="#000" stroke-width="2" stroke-dasharray="2.4 6.1" />
<text x="222.6" y="1985.2" font-size="24.3" text-anchor="end">Contig1321</text>
<text x="267.3" y="2067" font-size="20" textLength="76.73" lengthAdjust="spacing">AGTTG</text>
<text x="345" y="2067" font-size="20" textLength="131.97" lengthAdjust="spacing">ACATATTCA</text>
<text x="478" y="2067" font-size="20" textLength="264.68" lengthAdjust="spacing">ATGTGCGTGAAGATAAAA</text>
<text x="743.7" y="2067" font-size="20" textLength="305.06" lengthAdjust="spacing">ACGTTTTTAATTTTCGAACAC</text>
<text x="1293.2" y="2067" font-size="20" textLength="287.09" lengthAdjust="spacing">GTGTTCGAAAATTAAAAACGT</text>
<text x="1581.4" y="2067" font-size="20" textLength="242.68" lengthAdjust="spacing">TTTTATCTTCACGCACAT</text>
<text x="1825.2" y="2067" font-size="20" textLength="124.61" lengthAdjust="spacing">ACATATTCA</text>
<text x="1950.9" y="2067" font-size="20" textLength="69.72" lengthAdjust="spacing">TATAG</text>
<text x="267.3" y="2027.7" font-size="20.3">92,709 bp</text>
<text x="2020.6" y="2027.7" font-size="20.3" text-anchor="end">102,961 bp</text>
<line x1="272.8" y1="2034.7" x2="272.8" y2="2046" stroke="#231815" stroke-width="2.2" />
<line x1="2013" y1="2034.7" x2="2013" y2="2046" stroke="#231815" stroke-width="2.2" />
<line x1="1057.5" y1="2059.7" x2="1282" y2="2059.7" stroke="#000" stroke-width="2" stroke-dasharray="2.4 6.1" />
<text x="220.2" y="2066" font-size="24.3" text-anchor="end">Contig1514</text>
<path d="M742.5,1879.3 H1053.2 V2079.7 H742.5" fill="none" stroke="#999999" stroke-width="2" stroke-dasharray="8.3 8"/>
<path d="M1580.2,1879.3 H1290.3 V2079.7 H1580.2" fill="none" stroke="#999999" stroke-width="2" stroke-dasharray="8.3 8"/>
<path d="M476.8,1879.3 H742.5 V2079.7 H476.8" fill="none" stroke="#595757" stroke-width="2" stroke-dasharray="8.3 8"/>
<line x1="476.8" y1="1879.3" x2="476.8" y2="2079.7" stroke="#595757" stroke-width="2" stroke-dasharray="8.3 8" />
<rect x="1580.2" y="1879.3" width="243.8" height="200.4" fill="none" stroke="#595757" stroke-width="2" stroke-dasharray="8.3 8" />
<rect x="343.8" y="1879.3" width="133" height="200.4" fill="none" stroke="#FF0000" stroke-width="2.2" stroke-dasharray="8 7.8" />
<rect x="1824" y="1879.3" width="125.7" height="200.4" fill="none" stroke="#FF0000" stroke-width="2.2" stroke-dasharray="8 7.8" />
<text x="409.4" y="2111.3" font-size="24.4" text-anchor="middle">Direct repeat</text>
<text x="610.5" y="2111.3" font-size="24.4" text-anchor="middle">Identical TIR</text>
<text x="896.4" y="2111.3" font-size="24.4" text-anchor="middle">Similar TIR</text>
<text x="1436.2" y="2111.3" font-size="24.4" text-anchor="middle">Similar TIR</text>
<text x="1702.5" y="2111.3" font-size="24.4" text-anchor="middle">Identical TIR</text>
<text x="1884.5" y="2111.3" font-size="24.4" text-anchor="middle">Direct repeat</text>
</svg>
</body></html>
